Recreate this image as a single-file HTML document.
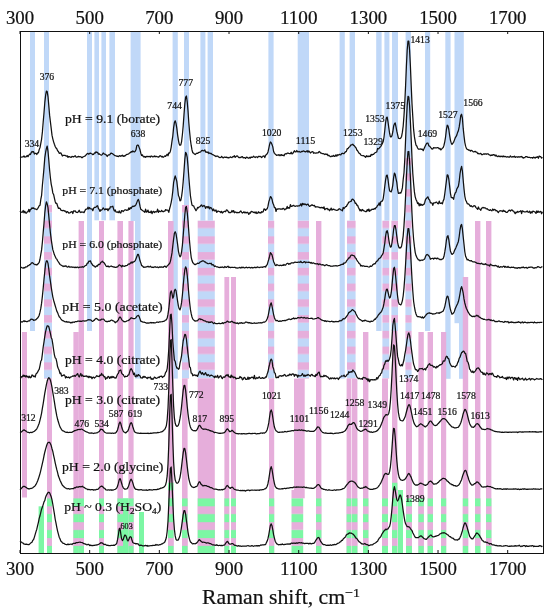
<!DOCTYPE html>
<html><head><meta charset="utf-8"><title>Raman spectra</title>
<style>
html,body{margin:0;padding:0;background:#fff;}
svg{display:block;font-family:"Liberation Serif","DejaVu Serif",serif;fill:#111;}
</style></head>
<body>
<svg width="550" height="612" viewBox="0 0 550 612">
<defs>
<pattern id="bp" patternUnits="userSpaceOnUse" x="0" y="220.6" width="600" height="15.75">
<rect x="0" y="0" width="600" height="7.7" fill="#e6aedb"/>
<rect x="0" y="7.7" width="600" height="8.05" fill="#c0d8f8"/>
</pattern>
<pattern id="gp" patternUnits="userSpaceOnUse" x="0" y="490.4" width="600" height="15.9">
<rect x="0" y="0" width="600" height="7.8" fill="#e6aedb"/>
<rect x="0" y="7.8" width="600" height="8.1" fill="#7cf7a4"/>
</pattern>
</defs>
<rect x="0" y="0" width="550" height="612" fill="#fff"/>
<g stroke="none">
<rect x="30.00" y="31.00" width="5.00" height="300.00" fill="#c0d8f8"/>
<rect x="44.00" y="31.00" width="5.00" height="182.00" fill="#c0d8f8"/>
<rect x="87.00" y="31.00" width="5.00" height="300.00" fill="#c0d8f8"/>
<rect x="94.40" y="31.00" width="4.60" height="189.30" fill="#c0d8f8"/>
<rect x="101.40" y="31.00" width="4.60" height="189.30" fill="#c0d8f8"/>
<rect x="109.40" y="31.00" width="5.60" height="189.30" fill="#c0d8f8"/>
<rect x="130.60" y="31.00" width="10.00" height="190.00" fill="#c0d8f8"/>
<rect x="135.00" y="221.00" width="5.60" height="157.60" fill="#c0d8f8"/>
<rect x="172.60" y="31.00" width="5.20" height="347.60" fill="#c0d8f8"/>
<rect x="184.00" y="31.00" width="5.00" height="175.00" fill="#c0d8f8"/>
<rect x="200.40" y="31.00" width="5.00" height="189.60" fill="#c0d8f8"/>
<rect x="207.60" y="31.00" width="5.40" height="189.60" fill="#c0d8f8"/>
<rect x="268.40" y="31.00" width="5.20" height="189.60" fill="#c0d8f8"/>
<rect x="297.70" y="31.00" width="11.30" height="189.60" fill="#c0d8f8"/>
<rect x="339.60" y="31.00" width="5.20" height="347.60" fill="#c0d8f8"/>
<rect x="349.60" y="31.00" width="5.40" height="189.60" fill="#c0d8f8"/>
<rect x="376.20" y="31.00" width="5.40" height="300.00" fill="#c0d8f8"/>
<rect x="384.40" y="31.00" width="5.00" height="189.60" fill="#c0d8f8"/>
<rect x="392.00" y="31.00" width="6.00" height="189.60" fill="#c0d8f8"/>
<rect x="405.60" y="31.00" width="5.40" height="126.60" fill="#c0d8f8"/>
<rect x="425.00" y="31.00" width="5.20" height="300.00" fill="#c0d8f8"/>
<rect x="445.30" y="31.00" width="5.30" height="347.80" fill="#c0d8f8"/>
<rect x="454.50" y="31.00" width="9.30" height="292.20" fill="#c0d8f8"/>
<rect x="459.00" y="323.00" width="4.80" height="55.80" fill="#c0d8f8"/>
<rect x="22.00" y="332.00" width="5.00" height="165.50" fill="#e6aedb"/>
<rect x="47.00" y="378.60" width="5.00" height="174.40" fill="#e6aedb"/>
<rect x="73.40" y="332.00" width="5.40" height="221.00" fill="#e6aedb"/>
<rect x="78.60" y="221.00" width="5.40" height="332.00" fill="#e6aedb"/>
<rect x="99.00" y="221.00" width="5.00" height="332.00" fill="#e6aedb"/>
<rect x="117.40" y="221.00" width="5.60" height="332.00" fill="#e6aedb"/>
<rect x="128.40" y="221.00" width="5.20" height="332.00" fill="#e6aedb"/>
<rect x="168.00" y="221.00" width="5.60" height="332.00" fill="#e6aedb"/>
<rect x="182.00" y="378.60" width="5.60" height="174.40" fill="#e6aedb"/>
<rect x="197.70" y="378.60" width="17.10" height="174.40" fill="#e6aedb"/>
<rect x="224.40" y="277.00" width="4.80" height="276.00" fill="#e6aedb"/>
<rect x="231.00" y="277.00" width="5.00" height="276.00" fill="#e6aedb"/>
<rect x="269.00" y="378.60" width="5.20" height="174.40" fill="#e6aedb"/>
<rect x="294.00" y="378.60" width="10.70" height="119.70" fill="#e6aedb"/>
<rect x="316.00" y="221.00" width="5.40" height="332.00" fill="#e6aedb"/>
<rect x="346.60" y="378.60" width="4.80" height="174.40" fill="#e6aedb"/>
<rect x="352.00" y="378.60" width="5.40" height="174.40" fill="#e6aedb"/>
<rect x="363.00" y="332.00" width="5.40" height="221.00" fill="#e6aedb"/>
<rect x="382.00" y="378.60" width="6.00" height="174.40" fill="#e6aedb"/>
<rect x="392.00" y="331.00" width="5.40" height="222.00" fill="#e6aedb"/>
<rect x="406.00" y="378.60" width="6.00" height="174.40" fill="#e6aedb"/>
<rect x="418.40" y="332.00" width="5.40" height="221.00" fill="#e6aedb"/>
<rect x="427.60" y="332.00" width="5.40" height="221.00" fill="#e6aedb"/>
<rect x="441.00" y="332.00" width="5.20" height="221.00" fill="#e6aedb"/>
<rect x="462.80" y="277.00" width="5.40" height="276.00" fill="#e6aedb"/>
<rect x="475.00" y="221.00" width="5.40" height="332.00" fill="#e6aedb"/>
<rect x="486.00" y="221.00" width="5.40" height="332.00" fill="#e6aedb"/>
<rect x="44.00" y="212.50" width="8.00" height="166.10" fill="url(#bp)"/>
<rect x="47.00" y="204.85" width="5.00" height="7.75" fill="url(#bp)"/>
<rect x="182.00" y="205.00" width="7.00" height="173.60" fill="url(#bp)"/>
<rect x="197.70" y="220.60" width="17.10" height="158.00" fill="url(#bp)"/>
<rect x="268.00" y="220.60" width="6.20" height="158.00" fill="url(#bp)"/>
<rect x="297.70" y="220.60" width="11.30" height="158.00" fill="url(#bp)"/>
<rect x="347.00" y="220.60" width="8.60" height="158.00" fill="url(#bp)"/>
<rect x="382.40" y="220.60" width="6.80" height="158.00" fill="url(#bp)"/>
<rect x="391.40" y="220.60" width="6.60" height="110.40" fill="url(#bp)"/>
<rect x="405.40" y="157.60" width="6.20" height="221.00" fill="url(#bp)"/>
<rect x="291.50" y="490.00" width="2.50" height="8.30" fill="#e6aedb"/>
<rect x="47.00" y="498.20" width="5.00" height="54.80" fill="url(#gp)"/>
<rect x="73.40" y="498.20" width="5.40" height="54.80" fill="url(#gp)"/>
<rect x="78.60" y="498.20" width="5.40" height="54.80" fill="url(#gp)"/>
<rect x="99.00" y="498.20" width="5.00" height="54.80" fill="url(#gp)"/>
<rect x="117.40" y="498.20" width="5.60" height="54.80" fill="url(#gp)"/>
<rect x="128.40" y="498.20" width="5.20" height="54.80" fill="url(#gp)"/>
<rect x="168.00" y="482.60" width="5.60" height="70.40" fill="url(#gp)"/>
<rect x="182.00" y="498.20" width="5.60" height="54.80" fill="url(#gp)"/>
<rect x="197.70" y="498.20" width="17.10" height="54.80" fill="url(#gp)"/>
<rect x="224.40" y="498.20" width="4.80" height="54.80" fill="url(#gp)"/>
<rect x="231.00" y="498.20" width="5.00" height="54.80" fill="url(#gp)"/>
<rect x="269.00" y="498.20" width="5.20" height="54.80" fill="url(#gp)"/>
<rect x="291.50" y="498.20" width="11.70" height="54.80" fill="url(#gp)"/>
<rect x="316.00" y="498.20" width="5.40" height="54.80" fill="url(#gp)"/>
<rect x="346.60" y="498.20" width="4.80" height="54.80" fill="url(#gp)"/>
<rect x="352.00" y="498.20" width="5.40" height="54.80" fill="url(#gp)"/>
<rect x="363.00" y="498.20" width="5.40" height="54.80" fill="url(#gp)"/>
<rect x="382.00" y="498.20" width="6.00" height="54.80" fill="url(#gp)"/>
<rect x="392.00" y="482.60" width="5.40" height="70.40" fill="url(#gp)"/>
<rect x="406.00" y="498.20" width="6.00" height="54.80" fill="url(#gp)"/>
<rect x="418.40" y="498.20" width="5.40" height="54.80" fill="url(#gp)"/>
<rect x="427.60" y="498.20" width="5.40" height="54.80" fill="url(#gp)"/>
<rect x="441.00" y="498.20" width="5.20" height="54.80" fill="url(#gp)"/>
<rect x="462.80" y="498.20" width="5.40" height="54.80" fill="url(#gp)"/>
<rect x="475.00" y="498.20" width="5.40" height="54.80" fill="url(#gp)"/>
<rect x="486.00" y="498.20" width="5.40" height="54.80" fill="url(#gp)"/>
<rect x="38.60" y="506.30" width="5.40" height="46.70" fill="#7cf7a4"/>
<rect x="123.00" y="498.20" width="5.40" height="54.80" fill="#7cf7a4"/>
<rect x="139.00" y="512.00" width="5.00" height="41.00" fill="#7cf7a4"/>
<rect x="398.00" y="490.00" width="5.00" height="63.00" fill="#7cf7a4"/>
</g>
<g fill="none" stroke="#111" stroke-width="1.25" stroke-linejoin="round">
<path d="M20.0,156.61 L20.8,156.91 L21.6,157.13 L22.4,156.98 L23.2,156.79 L24.0,155.95 L24.8,157.07 L25.6,156.80 L26.4,156.73 L27.2,155.45 L28.0,156.68 L28.8,155.26 L29.6,154.11 L30.4,154.56 L31.2,152.64 L32.0,151.52 L32.8,152.09 L33.6,151.67 L34.4,154.01 L35.2,153.35 L36.0,153.48 L36.8,154.48 L37.6,152.76 L38.4,152.82 L39.2,149.61 L40.0,147.63 L40.8,143.49 L41.6,139.05 L42.4,131.89 L43.2,121.97 L44.0,112.70 L44.8,102.68 L45.6,95.46 L46.4,91.10 L47.2,91.59 L48.0,96.56 L48.8,105.63 L49.6,115.14 L50.4,121.91 L51.2,128.35 L52.0,135.16 L52.8,138.86 L53.6,141.83 L54.4,144.28 L55.2,146.44 L56.0,148.04 L56.8,148.79 L57.6,150.73 L58.4,151.45 L59.2,153.34 L60.0,153.11 L60.8,152.92 L61.6,154.39 L62.4,156.04 L63.2,155.34 L64.0,155.27 L64.8,155.38 L65.6,155.69 L66.4,156.18 L67.2,155.73 L68.0,157.43 L68.8,156.50 L69.6,156.64 L70.4,157.23 L71.2,157.41 L72.0,156.46 L72.8,156.61 L73.6,156.85 L74.4,156.34 L75.2,155.73 L76.0,157.02 L76.8,157.18 L77.6,156.97 L78.4,156.37 L79.2,156.90 L80.0,156.53 L80.8,156.76 L81.6,157.54 L82.4,157.52 L83.2,156.73 L84.0,156.49 L84.8,156.24 L85.6,155.25 L86.4,154.66 L87.2,153.66 L88.0,153.48 L88.8,154.18 L89.6,153.41 L90.4,153.13 L91.2,153.54 L92.0,153.91 L92.8,154.69 L93.6,154.42 L94.4,152.94 L95.2,153.09 L96.0,151.77 L96.8,152.39 L97.6,152.30 L98.4,154.13 L99.2,153.83 L100.0,154.45 L100.8,154.84 L101.6,155.10 L102.4,154.36 L103.2,153.03 L104.0,153.78 L104.8,154.13 L105.6,154.61 L106.4,155.06 L107.2,156.48 L108.0,155.36 L108.8,154.76 L109.6,154.93 L110.4,153.80 L111.2,153.09 L112.0,153.49 L112.8,153.92 L113.6,154.43 L114.4,155.47 L115.2,155.74 L116.0,155.79 L116.8,156.27 L117.6,156.13 L118.4,156.62 L119.2,155.92 L120.0,155.55 L120.8,156.43 L121.6,155.60 L122.4,155.20 L123.2,156.39 L124.0,155.79 L124.8,156.05 L125.6,155.20 L126.4,154.68 L127.2,154.30 L128.0,154.16 L128.8,153.72 L129.6,152.93 L130.4,152.70 L131.2,151.60 L132.0,152.21 L132.8,150.92 L133.6,151.59 L134.4,151.98 L135.2,151.27 L136.0,149.76 L136.8,145.65 L137.6,145.03 L138.4,145.41 L139.2,147.63 L140.0,149.79 L140.8,153.21 L141.6,155.51 L142.4,154.80 L143.2,156.44 L144.0,157.09 L144.8,156.44 L145.6,157.22 L146.4,156.47 L147.2,156.66 L148.0,156.35 L148.8,156.72 L149.6,156.42 L150.4,156.99 L151.2,155.99 L152.0,156.25 L152.8,156.89 L153.6,156.73 L154.4,155.84 L155.2,156.78 L156.0,156.12 L156.8,156.74 L157.6,156.78 L158.4,157.20 L159.2,156.63 L160.0,155.71 L160.8,156.00 L161.6,156.94 L162.4,156.39 L163.2,157.28 L164.0,156.67 L164.8,155.83 L165.6,156.43 L166.4,155.27 L167.2,154.25 L168.0,155.75 L168.8,152.97 L169.6,153.12 L170.4,151.16 L171.2,147.05 L172.0,141.12 L172.8,136.06 L173.6,127.91 L174.4,122.59 L175.2,120.79 L176.0,123.38 L176.8,128.13 L177.6,134.82 L178.4,140.08 L179.2,144.04 L180.0,145.32 L180.8,144.86 L181.6,141.54 L182.4,134.54 L183.2,125.87 L184.0,114.63 L184.8,104.15 L185.6,97.33 L186.4,95.96 L187.2,101.54 L188.0,110.69 L188.8,122.46 L189.6,131.76 L190.4,139.91 L191.2,145.47 L192.0,149.97 L192.8,152.75 L193.6,153.17 L194.4,153.98 L195.2,154.50 L196.0,153.81 L196.8,153.18 L197.6,153.49 L198.4,152.60 L199.2,152.31 L200.0,152.23 L200.8,151.78 L201.6,150.52 L202.4,150.32 L203.2,150.81 L204.0,150.67 L204.8,149.99 L205.6,152.03 L206.4,151.88 L207.2,152.59 L208.0,151.88 L208.8,153.57 L209.6,152.97 L210.4,153.60 L211.2,153.31 L212.0,154.31 L212.8,154.68 L213.6,154.95 L214.4,155.65 L215.2,155.94 L216.0,156.62 L216.8,156.01 L217.6,156.02 L218.4,156.83 L219.2,157.21 L220.0,157.57 L220.8,157.50 L221.6,156.32 L222.4,157.31 L223.2,157.94 L224.0,157.31 L224.8,156.95 L225.6,157.45 L226.4,157.07 L227.2,157.75 L228.0,157.44 L228.8,158.04 L229.6,157.57 L230.4,156.89 L231.2,157.44 L232.0,157.53 L232.8,156.68 L233.6,156.75 L234.4,155.75 L235.2,157.39 L236.0,156.56 L236.8,155.84 L237.6,156.14 L238.4,157.17 L239.2,157.76 L240.0,157.27 L240.8,157.63 L241.6,156.76 L242.4,156.59 L243.2,157.88 L244.0,157.71 L244.8,157.61 L245.6,158.46 L246.4,157.17 L247.2,157.37 L248.0,157.85 L248.8,158.26 L249.6,157.31 L250.4,157.98 L251.2,156.94 L252.0,157.49 L252.8,157.21 L253.6,156.28 L254.4,157.00 L255.2,157.49 L256.0,156.81 L256.8,156.89 L257.6,157.68 L258.4,156.41 L259.2,156.46 L260.0,156.71 L260.8,156.39 L261.6,157.59 L262.4,156.87 L263.2,156.02 L264.0,155.86 L264.8,157.56 L265.6,155.34 L266.4,154.46 L267.2,153.80 L268.0,151.91 L268.8,148.36 L269.6,144.42 L270.4,141.99 L271.2,142.70 L272.0,144.44 L272.8,146.83 L273.6,151.50 L274.4,153.36 L275.2,154.09 L276.0,154.75 L276.8,155.40 L277.6,154.98 L278.4,154.73 L279.2,155.70 L280.0,154.78 L280.8,155.69 L281.6,154.58 L282.4,155.34 L283.2,155.17 L284.0,155.90 L284.8,154.00 L285.6,153.72 L286.4,153.91 L287.2,153.23 L288.0,153.16 L288.8,153.44 L289.6,153.58 L290.4,153.66 L291.2,152.25 L292.0,153.90 L292.8,153.41 L293.6,152.06 L294.4,150.75 L295.2,151.78 L296.0,151.89 L296.8,150.45 L297.6,151.79 L298.4,151.76 L299.2,151.34 L300.0,152.15 L300.8,152.18 L301.6,151.35 L302.4,151.58 L303.2,150.98 L304.0,151.10 L304.8,151.65 L305.6,151.84 L306.4,151.38 L307.2,150.65 L308.0,152.30 L308.8,150.93 L309.6,151.93 L310.4,152.98 L311.2,152.33 L312.0,151.73 L312.8,151.52 L313.6,153.26 L314.4,152.76 L315.2,153.21 L316.0,153.18 L316.8,152.93 L317.6,152.87 L318.4,152.59 L319.2,151.41 L320.0,152.20 L320.8,153.22 L321.6,153.16 L322.4,153.71 L323.2,153.68 L324.0,154.05 L324.8,154.56 L325.6,153.93 L326.4,154.56 L327.2,154.15 L328.0,155.63 L328.8,155.35 L329.6,155.91 L330.4,156.70 L331.2,156.60 L332.0,155.94 L332.8,156.37 L333.6,155.31 L334.4,156.33 L335.2,156.15 L336.0,154.76 L336.8,156.21 L337.6,154.72 L338.4,155.21 L339.2,154.30 L340.0,154.67 L340.8,154.82 L341.6,153.58 L342.4,153.20 L343.2,153.60 L344.0,153.72 L344.8,152.56 L345.6,151.81 L346.4,151.44 L347.2,148.71 L348.0,148.72 L348.8,147.26 L349.6,147.02 L350.4,145.58 L351.2,144.77 L352.0,144.82 L352.8,144.23 L353.6,145.37 L354.4,145.79 L355.2,146.98 L356.0,147.84 L356.8,150.02 L357.6,150.73 L358.4,152.24 L359.2,153.30 L360.0,153.63 L360.8,155.04 L361.6,155.51 L362.4,155.74 L363.2,155.66 L364.0,155.92 L364.8,156.57 L365.6,157.35 L366.4,155.75 L367.2,156.68 L368.0,156.11 L368.8,156.60 L369.6,156.09 L370.4,156.44 L371.2,154.33 L372.0,155.10 L372.8,154.43 L373.6,154.27 L374.4,153.42 L375.2,152.57 L376.0,152.26 L376.8,151.84 L377.6,148.45 L378.4,148.95 L379.2,148.22 L380.0,147.23 L380.8,146.31 L381.6,144.96 L382.4,143.53 L383.2,141.55 L384.0,137.25 L384.8,130.26 L385.6,122.54 L386.4,117.67 L387.2,117.09 L388.0,121.83 L388.8,127.92 L389.6,133.25 L390.4,136.92 L391.2,136.89 L392.0,135.68 L392.8,131.99 L393.6,126.29 L394.4,123.88 L395.2,122.91 L396.0,126.93 L396.8,131.22 L397.6,134.73 L398.4,138.12 L399.2,138.50 L400.0,138.66 L400.8,137.92 L401.6,136.44 L402.4,132.18 L403.2,126.02 L404.0,115.63 L404.8,102.37 L405.6,85.45 L406.4,66.32 L407.2,49.96 L408.0,41.15 L408.8,41.19 L409.6,50.51 L410.4,66.07 L411.2,85.65 L412.0,103.89 L412.8,116.83 L413.6,129.44 L414.4,136.69 L415.2,141.37 L416.0,145.11 L416.8,146.00 L417.6,148.00 L418.4,149.12 L419.2,149.07 L420.0,149.05 L420.8,148.85 L421.6,149.41 L422.4,149.22 L423.2,150.63 L424.0,148.85 L424.8,147.05 L425.6,145.28 L426.4,143.70 L427.2,143.01 L428.0,143.07 L428.8,145.90 L429.6,146.07 L430.4,147.06 L431.2,148.16 L432.0,149.03 L432.8,148.78 L433.6,147.61 L434.4,147.93 L435.2,147.75 L436.0,147.94 L436.8,147.84 L437.6,147.53 L438.4,147.83 L439.2,148.89 L440.0,148.39 L440.8,149.93 L441.6,149.16 L442.4,148.17 L443.2,147.61 L444.0,145.25 L444.8,141.55 L445.6,136.75 L446.4,129.69 L447.2,125.24 L448.0,125.96 L448.8,129.51 L449.6,135.26 L450.4,140.06 L451.2,142.91 L452.0,144.50 L452.8,143.24 L453.6,142.31 L454.4,140.10 L455.2,137.94 L456.0,136.69 L456.8,135.11 L457.6,132.41 L458.4,130.63 L459.2,126.91 L460.0,121.59 L460.8,115.38 L461.6,114.25 L462.4,118.18 L463.2,128.44 L464.0,135.92 L464.8,142.30 L465.6,146.15 L466.4,148.40 L467.2,149.42 L468.0,149.57 L468.8,150.25 L469.6,150.19 L470.4,151.16 L471.2,150.29 L472.0,150.57 L472.8,151.43 L473.6,151.97 L474.4,151.62 L475.2,151.32 L476.0,152.10 L476.8,152.01 L477.6,153.51 L478.4,153.37 L479.2,153.90 L480.0,153.68 L480.8,153.35 L481.6,154.59 L482.4,154.72 L483.2,154.15 L484.0,153.77 L484.8,154.34 L485.6,153.78 L486.4,154.28 L487.2,153.78 L488.0,153.77 L488.8,154.64 L489.6,154.81 L490.4,155.66 L491.2,154.96 L492.0,155.38 L492.8,154.91 L493.6,154.60 L494.4,154.80 L495.2,156.01 L496.0,154.97 L496.8,156.21 L497.6,156.56 L498.4,155.86 L499.2,156.72 L500.0,156.10 L500.8,156.76 L501.6,156.13 L502.4,156.76 L503.2,155.86 L504.0,156.83 L504.8,156.34 L505.6,156.66 L506.4,157.02 L507.2,156.85 L508.0,156.69 L508.8,157.24 L509.6,157.15 L510.4,155.96 L511.2,156.95 L512.0,157.08 L512.8,156.56 L513.6,156.87 L514.4,156.12 L515.2,157.40 L516.0,156.77 L516.8,156.80 L517.6,157.26 L518.4,156.67 L519.2,157.22 L520.0,156.70 L520.8,156.95 L521.6,156.50 L522.4,157.27 L523.2,158.15 L524.0,157.54 L524.8,157.72 L525.6,156.51 L526.4,156.56 L527.2,156.91 L528.0,157.36 L528.8,157.37 L529.6,157.27 L530.4,157.80 L531.2,157.66 L532.0,157.62 L532.8,158.22 L533.6,157.09 L534.4,157.54 L535.2,158.14 L536.0,157.06 L536.8,157.35 L537.6,156.71 L538.4,158.23 L539.2,156.02 L540.0,156.59 L540.8,156.70 L541.6,158.09 L542.4,157.31"/>
<path d="M20.0,211.19 L20.8,212.36 L21.6,212.09 L22.4,212.22 L23.2,210.50 L24.0,212.82 L24.8,211.19 L25.6,212.96 L26.4,213.19 L27.2,211.97 L28.0,211.76 L28.8,209.40 L29.6,211.86 L30.4,209.27 L31.2,209.21 L32.0,207.73 L32.8,208.43 L33.6,207.87 L34.4,208.81 L35.2,208.96 L36.0,209.26 L36.8,209.69 L37.6,208.55 L38.4,207.35 L39.2,205.79 L40.0,205.30 L40.8,199.48 L41.6,195.29 L42.4,185.19 L43.2,177.02 L44.0,167.87 L44.8,157.83 L45.6,152.47 L46.4,148.35 L47.2,146.06 L48.0,151.38 L48.8,160.19 L49.6,170.02 L50.4,177.86 L51.2,184.08 L52.0,187.88 L52.8,192.94 L53.6,194.48 L54.4,198.07 L55.2,201.66 L56.0,203.36 L56.8,203.46 L57.6,205.96 L58.4,208.41 L59.2,208.08 L60.0,208.31 L60.8,210.11 L61.6,210.36 L62.4,210.77 L63.2,210.45 L64.0,210.56 L64.8,211.26 L65.6,211.04 L66.4,212.69 L67.2,211.57 L68.0,212.09 L68.8,213.17 L69.6,212.83 L70.4,212.62 L71.2,211.74 L72.0,211.52 L72.8,213.52 L73.6,210.96 L74.4,211.19 L75.2,210.89 L76.0,212.09 L76.8,212.47 L77.6,212.50 L78.4,211.67 L79.2,210.26 L80.0,212.09 L80.8,212.51 L81.6,211.92 L82.4,212.01 L83.2,212.05 L84.0,212.62 L84.8,211.02 L85.6,209.37 L86.4,209.13 L87.2,208.98 L88.0,207.19 L88.8,208.99 L89.6,207.55 L90.4,208.76 L91.2,209.00 L92.0,208.81 L92.8,210.72 L93.6,208.40 L94.4,207.41 L95.2,207.37 L96.0,207.12 L96.8,206.13 L97.6,205.70 L98.4,208.46 L99.2,209.58 L100.0,211.41 L100.8,209.72 L101.6,210.21 L102.4,209.30 L103.2,207.87 L104.0,208.93 L104.8,209.86 L105.6,208.87 L106.4,209.40 L107.2,208.88 L108.0,210.66 L108.8,208.79 L109.6,208.98 L110.4,206.75 L111.2,206.97 L112.0,206.74 L112.8,206.17 L113.6,209.20 L114.4,211.02 L115.2,209.94 L116.0,211.90 L116.8,212.17 L117.6,211.97 L118.4,212.69 L119.2,210.91 L120.0,212.62 L120.8,213.05 L121.6,210.56 L122.4,210.77 L123.2,211.64 L124.0,210.67 L124.8,209.82 L125.6,209.78 L126.4,210.35 L127.2,210.07 L128.0,210.23 L128.8,207.84 L129.6,209.44 L130.4,207.65 L131.2,208.33 L132.0,206.91 L132.8,206.09 L133.6,206.53 L134.4,206.10 L135.2,205.62 L136.0,204.54 L136.8,202.62 L137.6,200.36 L138.4,199.40 L139.2,202.03 L140.0,206.21 L140.8,209.40 L141.6,209.66 L142.4,210.55 L143.2,211.00 L144.0,211.55 L144.8,212.32 L145.6,209.16 L146.4,212.17 L147.2,211.63 L148.0,210.07 L148.8,212.52 L149.6,212.19 L150.4,212.59 L151.2,211.01 L152.0,213.68 L152.8,211.83 L153.6,211.35 L154.4,212.55 L155.2,211.66 L156.0,211.76 L156.8,211.87 L157.6,209.17 L158.4,212.44 L159.2,210.89 L160.0,211.49 L160.8,211.71 L161.6,210.40 L162.4,211.34 L163.2,211.77 L164.0,211.17 L164.8,211.23 L165.6,209.62 L166.4,210.09 L167.2,210.02 L168.0,210.39 L168.8,212.34 L169.6,208.76 L170.4,205.93 L171.2,202.30 L172.0,197.80 L172.8,191.14 L173.6,182.73 L174.4,178.78 L175.2,175.97 L176.0,178.46 L176.8,181.38 L177.6,188.14 L178.4,195.37 L179.2,197.31 L180.0,200.88 L180.8,200.30 L181.6,196.43 L182.4,190.39 L183.2,181.68 L184.0,170.95 L184.8,159.60 L185.6,152.36 L186.4,153.56 L187.2,157.36 L188.0,166.23 L188.8,177.00 L189.6,186.51 L190.4,195.62 L191.2,200.75 L192.0,205.04 L192.8,205.71 L193.6,205.77 L194.4,207.70 L195.2,209.06 L196.0,210.72 L196.8,209.48 L197.6,207.45 L198.4,207.87 L199.2,206.88 L200.0,206.75 L200.8,205.56 L201.6,204.84 L202.4,206.61 L203.2,206.07 L204.0,205.47 L204.8,206.24 L205.6,208.37 L206.4,206.80 L207.2,206.57 L208.0,207.96 L208.8,206.48 L209.6,208.91 L210.4,207.47 L211.2,207.79 L212.0,209.00 L212.8,210.78 L213.6,209.01 L214.4,210.81 L215.2,210.98 L216.0,210.02 L216.8,212.45 L217.6,211.23 L218.4,211.10 L219.2,211.54 L220.0,211.61 L220.8,212.68 L221.6,211.35 L222.4,213.03 L223.2,212.15 L224.0,211.49 L224.8,211.24 L225.6,211.72 L226.4,209.89 L227.2,210.13 L228.0,211.13 L228.8,212.55 L229.6,212.31 L230.4,212.65 L231.2,212.22 L232.0,210.52 L232.8,212.04 L233.6,210.57 L234.4,212.77 L235.2,211.99 L236.0,212.20 L236.8,212.82 L237.6,212.44 L238.4,212.68 L239.2,212.60 L240.0,211.71 L240.8,210.94 L241.6,212.08 L242.4,213.08 L243.2,212.59 L244.0,211.78 L244.8,212.92 L245.6,212.24 L246.4,212.89 L247.2,212.21 L248.0,212.85 L248.8,214.35 L249.6,212.79 L250.4,213.19 L251.2,211.37 L252.0,211.51 L252.8,212.01 L253.6,212.51 L254.4,212.13 L255.2,213.17 L256.0,211.87 L256.8,213.52 L257.6,213.27 L258.4,211.75 L259.2,212.96 L260.0,212.36 L260.8,213.12 L261.6,211.69 L262.4,212.06 L263.2,211.72 L264.0,208.84 L264.8,209.36 L265.6,210.44 L266.4,209.11 L267.2,208.90 L268.0,206.19 L268.8,201.85 L269.6,199.39 L270.4,196.58 L271.2,197.24 L272.0,199.22 L272.8,203.02 L273.6,204.67 L274.4,207.51 L275.2,207.51 L276.0,211.48 L276.8,208.89 L277.6,209.29 L278.4,208.84 L279.2,208.92 L280.0,208.77 L280.8,209.26 L281.6,208.97 L282.4,209.07 L283.2,208.30 L284.0,208.82 L284.8,209.83 L285.6,208.86 L286.4,208.82 L287.2,206.40 L288.0,208.41 L288.8,207.54 L289.6,208.17 L290.4,204.56 L291.2,206.47 L292.0,206.30 L292.8,205.68 L293.6,205.29 L294.4,206.04 L295.2,206.38 L296.0,206.01 L296.8,205.82 L297.6,206.10 L298.4,205.76 L299.2,205.92 L300.0,205.24 L300.8,203.80 L301.6,206.01 L302.4,203.46 L303.2,204.58 L304.0,203.68 L304.8,204.58 L305.6,204.06 L306.4,205.04 L307.2,204.36 L308.0,204.12 L308.8,205.58 L309.6,206.41 L310.4,205.83 L311.2,205.40 L312.0,204.68 L312.8,205.43 L313.6,205.80 L314.4,205.33 L315.2,207.06 L316.0,206.73 L316.8,206.96 L317.6,206.77 L318.4,206.98 L319.2,207.58 L320.0,207.43 L320.8,207.86 L321.6,207.40 L322.4,207.54 L323.2,208.28 L324.0,206.80 L324.8,209.73 L325.6,208.82 L326.4,208.56 L327.2,208.31 L328.0,209.75 L328.8,209.22 L329.6,210.73 L330.4,209.71 L331.2,208.11 L332.0,210.19 L332.8,209.29 L333.6,209.09 L334.4,209.74 L335.2,209.96 L336.0,210.25 L336.8,210.43 L337.6,210.18 L338.4,209.63 L339.2,208.69 L340.0,209.07 L340.8,209.89 L341.6,210.07 L342.4,210.74 L343.2,207.49 L344.0,208.52 L344.8,207.61 L345.6,206.68 L346.4,206.40 L347.2,204.85 L348.0,203.57 L348.8,202.16 L349.6,201.84 L350.4,201.48 L351.2,201.35 L352.0,199.27 L352.8,199.12 L353.6,200.03 L354.4,200.70 L355.2,203.33 L356.0,203.10 L356.8,205.23 L357.6,205.23 L358.4,207.54 L359.2,208.90 L360.0,210.83 L360.8,209.69 L361.6,211.01 L362.4,209.50 L363.2,210.28 L364.0,210.93 L364.8,211.27 L365.6,211.65 L366.4,211.56 L367.2,209.62 L368.0,210.99 L368.8,209.07 L369.6,211.30 L370.4,210.12 L371.2,210.06 L372.0,209.23 L372.8,209.40 L373.6,209.26 L374.4,208.48 L375.2,209.01 L376.0,207.53 L376.8,207.11 L377.6,205.28 L378.4,204.95 L379.2,202.78 L380.0,205.54 L380.8,201.67 L381.6,201.15 L382.4,201.14 L383.2,198.79 L384.0,192.82 L384.8,186.28 L385.6,179.92 L386.4,175.50 L387.2,175.05 L388.0,179.36 L388.8,186.03 L389.6,190.79 L390.4,191.55 L391.2,191.93 L392.0,189.49 L392.8,185.04 L393.6,177.67 L394.4,173.07 L395.2,174.33 L396.0,178.56 L396.8,182.34 L397.6,189.48 L398.4,193.27 L399.2,193.33 L400.0,192.66 L400.8,193.11 L401.6,191.15 L402.4,187.88 L403.2,179.50 L404.0,172.95 L404.8,159.07 L405.6,139.33 L406.4,120.23 L407.2,105.63 L408.0,96.30 L408.8,96.98 L409.6,105.96 L410.4,121.83 L411.2,139.08 L412.0,158.57 L412.8,173.55 L413.6,183.56 L414.4,191.91 L415.2,196.85 L416.0,199.50 L416.8,201.13 L417.6,203.55 L418.4,202.81 L419.2,205.78 L420.0,203.73 L420.8,205.39 L421.6,204.29 L422.4,205.26 L423.2,204.66 L424.0,204.31 L424.8,202.21 L425.6,199.28 L426.4,198.51 L427.2,197.53 L428.0,196.84 L428.8,199.34 L429.6,199.90 L430.4,202.77 L431.2,202.91 L432.0,203.08 L432.8,205.32 L433.6,202.82 L434.4,202.92 L435.2,202.86 L436.0,202.23 L436.8,202.24 L437.6,203.52 L438.4,203.87 L439.2,201.07 L440.0,203.36 L440.8,203.34 L441.6,202.90 L442.4,203.85 L443.2,200.88 L444.0,199.13 L444.8,193.60 L445.6,187.31 L446.4,180.96 L447.2,174.81 L448.0,175.33 L448.8,179.24 L449.6,185.89 L450.4,193.03 L451.2,197.38 L452.0,197.81 L452.8,197.66 L453.6,199.34 L454.4,195.16 L455.2,192.99 L456.0,192.09 L456.8,189.00 L457.6,187.67 L458.4,186.13 L459.2,181.45 L460.0,173.89 L460.8,169.06 L461.6,166.30 L462.4,171.00 L463.2,180.22 L464.0,188.82 L464.8,196.05 L465.6,199.93 L466.4,201.43 L467.2,203.58 L468.0,203.89 L468.8,204.18 L469.6,205.25 L470.4,206.26 L471.2,205.69 L472.0,206.66 L472.8,206.81 L473.6,205.80 L474.4,205.67 L475.2,206.13 L476.0,207.62 L476.8,208.37 L477.6,209.27 L478.4,206.98 L479.2,208.97 L480.0,209.23 L480.8,210.28 L481.6,208.10 L482.4,207.89 L483.2,207.35 L484.0,208.04 L484.8,207.73 L485.6,208.04 L486.4,208.97 L487.2,208.73 L488.0,209.60 L488.8,209.93 L489.6,210.41 L490.4,209.60 L491.2,210.54 L492.0,210.85 L492.8,209.02 L493.6,210.26 L494.4,209.44 L495.2,209.72 L496.0,210.78 L496.8,210.46 L497.6,211.82 L498.4,212.53 L499.2,211.23 L500.0,210.71 L500.8,210.93 L501.6,210.88 L502.4,211.61 L503.2,210.19 L504.0,211.36 L504.8,210.89 L505.6,211.88 L506.4,212.43 L507.2,212.39 L508.0,211.31 L508.8,210.33 L509.6,210.17 L510.4,211.12 L511.2,210.03 L512.0,209.86 L512.8,210.91 L513.6,211.18 L514.4,212.45 L515.2,213.67 L516.0,212.11 L516.8,212.69 L517.6,211.33 L518.4,212.08 L519.2,211.72 L520.0,211.31 L520.8,210.72 L521.6,213.60 L522.4,210.77 L523.2,211.19 L524.0,211.78 L524.8,211.97 L525.6,211.96 L526.4,211.75 L527.2,211.01 L528.0,212.27 L528.8,212.20 L529.6,211.19 L530.4,213.25 L531.2,211.74 L532.0,213.01 L532.8,211.12 L533.6,211.40 L534.4,211.75 L535.2,212.15 L536.0,213.45 L536.8,210.84 L537.6,212.37 L538.4,211.18 L539.2,212.35 L540.0,211.81 L540.8,211.43 L541.6,213.75 L542.4,211.75"/>
<path d="M20.0,267.32 L20.8,267.43 L21.6,267.48 L22.4,268.00 L23.2,268.18 L24.0,267.49 L24.8,267.95 L25.6,266.92 L26.4,267.00 L27.2,266.65 L28.0,265.50 L28.8,265.58 L29.6,264.61 L30.4,264.51 L31.2,263.34 L32.0,262.70 L32.8,262.90 L33.6,263.72 L34.4,264.20 L35.2,264.64 L36.0,264.48 L36.8,265.02 L37.6,264.26 L38.4,263.51 L39.2,262.34 L40.0,259.23 L40.8,254.45 L41.6,249.91 L42.4,242.04 L43.2,232.62 L44.0,223.32 L44.8,212.95 L45.6,205.88 L46.4,201.78 L47.2,203.91 L48.0,207.59 L48.8,216.17 L49.6,224.68 L50.4,232.93 L51.2,239.38 L52.0,244.69 L52.8,249.63 L53.6,252.10 L54.4,254.85 L55.2,256.56 L56.0,258.36 L56.8,259.10 L57.6,260.72 L58.4,261.94 L59.2,263.08 L60.0,264.44 L60.8,264.87 L61.6,265.53 L62.4,265.80 L63.2,266.57 L64.0,265.98 L64.8,266.35 L65.6,265.85 L66.4,266.18 L67.2,267.05 L68.0,266.91 L68.8,266.26 L69.6,267.11 L70.4,267.08 L71.2,266.77 L72.0,267.34 L72.8,267.09 L73.6,267.23 L74.4,267.57 L75.2,267.03 L76.0,267.66 L76.8,267.16 L77.6,267.05 L78.4,267.75 L79.2,267.42 L80.0,267.17 L80.8,267.21 L81.6,267.22 L82.4,266.61 L83.2,267.27 L84.0,266.80 L84.8,265.96 L85.6,265.52 L86.4,265.16 L87.2,263.16 L88.0,263.22 L88.8,261.11 L89.6,261.28 L90.4,260.83 L91.2,263.02 L92.0,264.00 L92.8,265.32 L93.6,265.92 L94.4,266.07 L95.2,267.18 L96.0,266.54 L96.8,265.80 L97.6,266.08 L98.4,264.30 L99.2,264.57 L100.0,264.09 L100.8,262.41 L101.6,261.93 L102.4,261.19 L103.2,262.25 L104.0,262.74 L104.8,263.85 L105.6,265.27 L106.4,266.42 L107.2,266.53 L108.0,265.96 L108.8,266.85 L109.6,266.84 L110.4,266.24 L111.2,265.99 L112.0,266.56 L112.8,266.66 L113.6,267.04 L114.4,266.95 L115.2,267.36 L116.0,267.41 L116.8,266.98 L117.6,266.84 L118.4,265.83 L119.2,264.88 L120.0,265.26 L120.8,265.73 L121.6,266.89 L122.4,265.38 L123.2,266.24 L124.0,266.13 L124.8,266.28 L125.6,265.64 L126.4,265.54 L127.2,265.49 L128.0,264.37 L128.8,263.99 L129.6,264.02 L130.4,263.24 L131.2,261.99 L132.0,263.22 L132.8,261.86 L133.6,262.10 L134.4,261.58 L135.2,260.67 L136.0,258.75 L136.8,256.86 L137.6,254.47 L138.4,254.44 L139.2,257.25 L140.0,260.79 L140.8,262.87 L141.6,265.54 L142.4,265.81 L143.2,266.85 L144.0,267.35 L144.8,267.02 L145.6,267.16 L146.4,266.85 L147.2,266.74 L148.0,266.21 L148.8,266.95 L149.6,266.90 L150.4,266.24 L151.2,267.04 L152.0,267.51 L152.8,267.17 L153.6,267.54 L154.4,267.01 L155.2,266.70 L156.0,267.32 L156.8,267.21 L157.6,266.98 L158.4,267.68 L159.2,267.17 L160.0,266.89 L160.8,267.25 L161.6,266.95 L162.4,267.02 L163.2,267.37 L164.0,266.55 L164.8,266.06 L165.6,266.85 L166.4,267.26 L167.2,265.90 L168.0,265.21 L168.8,264.28 L169.6,263.55 L170.4,261.36 L171.2,257.49 L172.0,252.91 L172.8,245.94 L173.6,239.12 L174.4,233.23 L175.2,231.74 L176.0,233.63 L176.8,238.76 L177.6,244.41 L178.4,251.09 L179.2,254.73 L180.0,256.83 L180.8,255.92 L181.6,251.82 L182.4,245.23 L183.2,235.58 L184.0,225.32 L184.8,215.06 L185.6,207.37 L186.4,206.51 L187.2,212.04 L188.0,220.93 L188.8,231.77 L189.6,242.02 L190.4,250.68 L191.2,257.28 L192.0,260.56 L192.8,262.73 L193.6,263.29 L194.4,264.40 L195.2,264.68 L196.0,264.05 L196.8,263.79 L197.6,263.18 L198.4,263.33 L199.2,263.09 L200.0,262.15 L200.8,261.76 L201.6,261.38 L202.4,260.88 L203.2,260.77 L204.0,261.25 L204.8,261.89 L205.6,262.20 L206.4,262.95 L207.2,263.15 L208.0,263.74 L208.8,263.56 L209.6,263.28 L210.4,263.57 L211.2,263.22 L212.0,265.02 L212.8,264.60 L213.6,265.10 L214.4,266.57 L215.2,265.99 L216.0,266.50 L216.8,266.90 L217.6,266.93 L218.4,267.29 L219.2,267.34 L220.0,267.54 L220.8,267.06 L221.6,267.28 L222.4,266.95 L223.2,267.42 L224.0,267.63 L224.8,266.52 L225.6,267.23 L226.4,267.43 L227.2,266.66 L228.0,266.17 L228.8,267.49 L229.6,267.04 L230.4,267.68 L231.2,267.47 L232.0,267.45 L232.8,267.32 L233.6,267.51 L234.4,267.25 L235.2,267.43 L236.0,268.06 L236.8,267.77 L237.6,268.07 L238.4,267.82 L239.2,267.70 L240.0,267.39 L240.8,268.07 L241.6,267.23 L242.4,267.67 L243.2,267.12 L244.0,267.78 L244.8,267.91 L245.6,267.46 L246.4,267.15 L247.2,267.79 L248.0,267.72 L248.8,267.46 L249.6,267.49 L250.4,268.03 L251.2,267.69 L252.0,267.44 L252.8,268.06 L253.6,267.68 L254.4,267.21 L255.2,267.77 L256.0,267.19 L256.8,267.63 L257.6,266.88 L258.4,267.27 L259.2,267.62 L260.0,267.26 L260.8,267.23 L261.6,267.23 L262.4,267.33 L263.2,266.91 L264.0,266.93 L264.8,266.53 L265.6,267.12 L266.4,265.38 L267.2,264.70 L268.0,261.87 L268.8,259.26 L269.6,256.20 L270.4,252.71 L271.2,253.59 L272.0,254.83 L272.8,258.05 L273.6,261.70 L274.4,263.25 L275.2,265.20 L276.0,265.57 L276.8,264.52 L277.6,265.10 L278.4,265.25 L279.2,265.67 L280.0,265.18 L280.8,265.33 L281.6,265.70 L282.4,265.07 L283.2,265.48 L284.0,264.52 L284.8,265.17 L285.6,265.12 L286.4,264.00 L287.2,263.37 L288.0,263.42 L288.8,264.40 L289.6,263.62 L290.4,263.96 L291.2,262.89 L292.0,262.76 L292.8,262.84 L293.6,263.00 L294.4,262.35 L295.2,262.02 L296.0,262.49 L296.8,262.32 L297.6,262.42 L298.4,262.21 L299.2,262.06 L300.0,262.34 L300.8,261.26 L301.6,262.31 L302.4,262.57 L303.2,262.37 L304.0,261.85 L304.8,261.62 L305.6,262.79 L306.4,262.10 L307.2,262.26 L308.0,262.43 L308.8,262.23 L309.6,262.30 L310.4,263.06 L311.2,262.35 L312.0,263.50 L312.8,262.96 L313.6,262.96 L314.4,263.58 L315.2,263.57 L316.0,263.95 L316.8,263.88 L317.6,263.70 L318.4,264.67 L319.2,264.05 L320.0,263.94 L320.8,264.66 L321.6,264.84 L322.4,264.69 L323.2,264.83 L324.0,265.17 L324.8,265.76 L325.6,265.13 L326.4,264.70 L327.2,265.01 L328.0,265.61 L328.8,265.55 L329.6,265.59 L330.4,266.14 L331.2,266.26 L332.0,266.06 L332.8,266.27 L333.6,265.87 L334.4,265.96 L335.2,265.99 L336.0,265.54 L336.8,266.05 L337.6,265.83 L338.4,265.52 L339.2,265.46 L340.0,265.32 L340.8,264.67 L341.6,264.52 L342.4,264.12 L343.2,264.45 L344.0,262.87 L344.8,263.02 L345.6,262.75 L346.4,261.16 L347.2,260.10 L348.0,259.17 L348.8,257.77 L349.6,257.85 L350.4,256.24 L351.2,255.19 L352.0,255.12 L352.8,255.45 L353.6,255.59 L354.4,256.07 L355.2,257.72 L356.0,258.38 L356.8,259.96 L357.6,261.35 L358.4,262.19 L359.2,263.57 L360.0,264.10 L360.8,266.13 L361.6,265.40 L362.4,266.20 L363.2,265.87 L364.0,265.90 L364.8,266.42 L365.6,266.32 L366.4,266.28 L367.2,266.46 L368.0,266.76 L368.8,267.02 L369.6,266.94 L370.4,265.93 L371.2,266.40 L372.0,265.99 L372.8,264.66 L373.6,264.11 L374.4,263.71 L375.2,263.79 L376.0,262.10 L376.8,261.05 L377.6,260.86 L378.4,259.40 L379.2,258.38 L380.0,258.05 L380.8,257.26 L381.6,255.62 L382.4,254.63 L383.2,252.97 L384.0,248.06 L384.8,243.04 L385.6,236.07 L386.4,231.40 L387.2,230.76 L388.0,233.76 L388.8,239.74 L389.6,244.41 L390.4,247.11 L391.2,246.77 L392.0,242.75 L392.8,237.05 L393.6,229.73 L394.4,225.71 L395.2,225.61 L396.0,229.97 L396.8,236.34 L397.6,242.40 L398.4,246.03 L399.2,248.04 L400.0,247.68 L400.8,247.83 L401.6,245.93 L402.4,241.58 L403.2,235.87 L404.0,225.67 L404.8,212.66 L405.6,195.69 L406.4,177.61 L407.2,162.16 L408.0,151.67 L408.8,151.49 L409.6,161.51 L410.4,177.79 L411.2,195.82 L412.0,213.96 L412.8,228.52 L413.6,239.29 L414.4,246.43 L415.2,252.37 L416.0,255.59 L416.8,257.35 L417.6,258.66 L418.4,259.81 L419.2,259.77 L420.0,260.78 L420.8,260.22 L421.6,260.06 L422.4,260.32 L423.2,259.86 L424.0,259.48 L424.8,258.61 L425.6,256.30 L426.4,254.84 L427.2,254.46 L428.0,254.96 L428.8,255.80 L429.6,257.03 L430.4,259.28 L431.2,258.69 L432.0,258.50 L432.8,258.22 L433.6,259.21 L434.4,258.03 L435.2,258.34 L436.0,258.23 L436.8,258.91 L437.6,258.05 L438.4,258.72 L439.2,259.06 L440.0,259.72 L440.8,259.31 L441.6,259.54 L442.4,258.89 L443.2,258.60 L444.0,256.32 L444.8,251.95 L445.6,246.95 L446.4,240.25 L447.2,236.53 L448.0,235.76 L448.8,239.61 L449.6,245.73 L450.4,250.93 L451.2,253.13 L452.0,254.33 L452.8,253.89 L453.6,253.16 L454.4,250.79 L455.2,249.14 L456.0,247.39 L456.8,245.41 L457.6,243.49 L458.4,241.43 L459.2,236.51 L460.0,230.03 L460.8,225.60 L461.6,224.41 L462.4,228.96 L463.2,236.83 L464.0,244.25 L464.8,251.74 L465.6,256.27 L466.4,258.09 L467.2,259.88 L468.0,259.44 L468.8,260.28 L469.6,260.59 L470.4,260.95 L471.2,260.55 L472.0,261.24 L472.8,261.88 L473.6,261.92 L474.4,261.77 L475.2,262.29 L476.0,262.39 L476.8,263.19 L477.6,263.49 L478.4,263.39 L479.2,263.68 L480.0,263.59 L480.8,263.89 L481.6,263.10 L482.4,264.05 L483.2,264.53 L484.0,264.04 L484.8,264.53 L485.6,263.75 L486.4,264.72 L487.2,264.82 L488.0,265.18 L488.8,265.16 L489.6,266.13 L490.4,264.19 L491.2,264.81 L492.0,265.16 L492.8,265.66 L493.6,265.59 L494.4,265.81 L495.2,265.42 L496.0,265.61 L496.8,265.99 L497.6,266.86 L498.4,266.06 L499.2,267.47 L500.0,267.07 L500.8,266.63 L501.6,266.96 L502.4,267.12 L503.2,266.33 L504.0,266.21 L504.8,267.31 L505.6,266.51 L506.4,267.24 L507.2,267.28 L508.0,266.34 L508.8,267.32 L509.6,267.44 L510.4,267.70 L511.2,267.16 L512.0,267.41 L512.8,267.39 L513.6,267.14 L514.4,267.90 L515.2,267.73 L516.0,268.16 L516.8,267.81 L517.6,268.30 L518.4,267.53 L519.2,267.62 L520.0,268.12 L520.8,267.68 L521.6,267.40 L522.4,267.59 L523.2,266.97 L524.0,267.65 L524.8,267.92 L525.6,267.52 L526.4,267.26 L527.2,268.32 L528.0,267.67 L528.8,267.17 L529.6,267.28 L530.4,267.06 L531.2,267.11 L532.0,267.11 L532.8,267.66 L533.6,268.08 L534.4,268.13 L535.2,267.55 L536.0,267.97 L536.8,267.49 L537.6,266.71 L538.4,266.72 L539.2,267.19 L540.0,267.55 L540.8,267.64 L541.6,266.84 L542.4,266.65"/>
<path d="M20.0,322.49 L20.8,322.34 L21.6,321.74 L22.4,322.02 L23.2,321.37 L24.0,320.76 L24.8,321.52 L25.6,321.20 L26.4,321.59 L27.2,321.62 L28.0,321.17 L28.8,320.95 L29.6,320.84 L30.4,319.64 L31.2,319.04 L32.0,319.39 L32.8,319.45 L33.6,320.29 L34.4,320.13 L35.2,320.03 L36.0,319.64 L36.8,318.75 L37.6,318.08 L38.4,316.98 L39.2,315.27 L40.0,312.17 L40.8,308.43 L41.6,303.15 L42.4,296.13 L43.2,288.18 L44.0,279.29 L44.8,271.48 L45.6,263.90 L46.4,260.96 L47.2,260.87 L48.0,263.37 L48.8,269.09 L49.6,275.88 L50.4,281.42 L51.2,287.04 L52.0,292.19 L52.8,296.80 L53.6,300.23 L54.4,302.99 L55.2,305.71 L56.0,308.39 L56.8,311.18 L57.6,312.61 L58.4,314.82 L59.2,316.69 L60.0,317.51 L60.8,318.79 L61.6,319.73 L62.4,320.59 L63.2,320.62 L64.0,321.35 L64.8,321.64 L65.6,321.82 L66.4,321.46 L67.2,322.18 L68.0,321.91 L68.8,322.19 L69.6,322.10 L70.4,322.94 L71.2,322.34 L72.0,322.88 L72.8,322.03 L73.6,322.06 L74.4,322.29 L75.2,321.60 L76.0,321.68 L76.8,321.71 L77.6,321.22 L78.4,321.02 L79.2,321.06 L80.0,321.38 L80.8,321.17 L81.6,321.37 L82.4,320.97 L83.2,320.99 L84.0,320.85 L84.8,321.08 L85.6,320.94 L86.4,320.87 L87.2,320.21 L88.0,319.76 L88.8,319.67 L89.6,319.95 L90.4,319.87 L91.2,320.32 L92.0,321.09 L92.8,321.41 L93.6,320.64 L94.4,320.13 L95.2,319.01 L96.0,318.42 L96.8,318.63 L97.6,319.34 L98.4,320.05 L99.2,320.19 L100.0,319.98 L100.8,320.04 L101.6,319.18 L102.4,319.25 L103.2,319.01 L104.0,319.59 L104.8,320.58 L105.6,321.42 L106.4,321.42 L107.2,321.84 L108.0,321.26 L108.8,321.23 L109.6,321.29 L110.4,320.65 L111.2,320.18 L112.0,320.12 L112.8,320.81 L113.6,320.94 L114.4,321.61 L115.2,322.77 L116.0,321.81 L116.8,321.82 L117.6,320.70 L118.4,319.84 L119.2,317.78 L120.0,317.02 L120.8,317.82 L121.6,319.55 L122.4,320.45 L123.2,321.08 L124.0,321.76 L124.8,321.72 L125.6,321.75 L126.4,321.24 L127.2,320.75 L128.0,320.59 L128.8,320.15 L129.6,319.61 L130.4,318.57 L131.2,317.65 L132.0,318.19 L132.8,318.40 L133.6,318.54 L134.4,318.68 L135.2,318.25 L136.0,317.78 L136.8,316.27 L137.6,315.80 L138.4,315.36 L139.2,316.62 L140.0,318.85 L140.8,321.43 L141.6,321.38 L142.4,321.91 L143.2,322.25 L144.0,322.14 L144.8,322.44 L145.6,322.56 L146.4,323.22 L147.2,323.07 L148.0,322.79 L148.8,323.03 L149.6,322.89 L150.4,322.44 L151.2,323.04 L152.0,322.49 L152.8,322.83 L153.6,322.59 L154.4,322.92 L155.2,322.88 L156.0,322.52 L156.8,322.13 L157.6,322.19 L158.4,322.33 L159.2,321.95 L160.0,321.87 L160.8,321.90 L161.6,321.75 L162.4,321.74 L163.2,321.38 L164.0,321.26 L164.8,320.69 L165.6,320.02 L166.4,319.78 L167.2,318.07 L168.0,314.17 L168.8,308.97 L169.6,301.07 L170.4,292.85 L171.2,290.87 L172.0,293.57 L172.8,298.18 L173.6,296.58 L174.4,290.90 L175.2,289.27 L176.0,290.50 L176.8,295.79 L177.6,301.10 L178.4,306.13 L179.2,308.89 L180.0,309.91 L180.8,307.14 L181.6,302.43 L182.4,295.03 L183.2,285.99 L184.0,276.81 L184.8,269.94 L185.6,266.86 L186.4,268.62 L187.2,275.03 L188.0,283.96 L188.8,294.00 L189.6,302.32 L190.4,309.43 L191.2,313.63 L192.0,317.01 L192.8,319.13 L193.6,319.89 L194.4,320.47 L195.2,321.16 L196.0,320.93 L196.8,320.94 L197.6,320.59 L198.4,319.55 L199.2,318.90 L200.0,318.80 L200.8,319.61 L201.6,319.26 L202.4,319.70 L203.2,320.38 L204.0,320.63 L204.8,320.83 L205.6,321.12 L206.4,321.83 L207.2,321.89 L208.0,321.79 L208.8,322.57 L209.6,322.17 L210.4,322.36 L211.2,321.87 L212.0,321.85 L212.8,322.89 L213.6,323.55 L214.4,322.65 L215.2,323.23 L216.0,323.67 L216.8,323.52 L217.6,323.55 L218.4,323.38 L219.2,323.16 L220.0,323.73 L220.8,323.55 L221.6,323.43 L222.4,322.60 L223.2,323.65 L224.0,322.75 L224.8,322.59 L225.6,322.58 L226.4,321.92 L227.2,321.16 L228.0,321.64 L228.8,322.10 L229.6,322.02 L230.4,322.23 L231.2,321.44 L232.0,321.35 L232.8,321.96 L233.6,322.67 L234.4,322.40 L235.2,323.22 L236.0,322.97 L236.8,323.39 L237.6,322.82 L238.4,323.75 L239.2,323.16 L240.0,322.91 L240.8,323.14 L241.6,322.62 L242.4,323.33 L243.2,323.03 L244.0,323.15 L244.8,322.84 L245.6,322.02 L246.4,322.05 L247.2,322.52 L248.0,322.42 L248.8,323.04 L249.6,322.58 L250.4,323.16 L251.2,322.98 L252.0,323.52 L252.8,323.26 L253.6,323.21 L254.4,322.94 L255.2,323.18 L256.0,323.36 L256.8,323.03 L257.6,323.23 L258.4,322.75 L259.2,322.89 L260.0,322.99 L260.8,322.66 L261.6,323.02 L262.4,322.66 L263.2,322.23 L264.0,322.04 L264.8,322.09 L265.6,321.40 L266.4,320.56 L267.2,318.72 L268.0,316.50 L268.8,312.47 L269.6,308.03 L270.4,304.47 L271.2,302.83 L272.0,306.01 L272.8,310.32 L273.6,314.59 L274.4,317.64 L275.2,319.57 L276.0,320.74 L276.8,320.36 L277.6,320.65 L278.4,321.42 L279.2,321.41 L280.0,320.79 L280.8,321.26 L281.6,321.17 L282.4,320.54 L283.2,320.55 L284.0,320.72 L284.8,320.35 L285.6,320.64 L286.4,320.09 L287.2,319.94 L288.0,319.39 L288.8,319.08 L289.6,319.12 L290.4,319.51 L291.2,319.40 L292.0,318.72 L292.8,318.75 L293.6,317.91 L294.4,318.86 L295.2,318.15 L296.0,318.67 L296.8,318.47 L297.6,317.67 L298.4,317.67 L299.2,317.96 L300.0,317.92 L300.8,317.41 L301.6,317.27 L302.4,317.75 L303.2,318.03 L304.0,317.46 L304.8,317.75 L305.6,318.24 L306.4,318.11 L307.2,317.77 L308.0,318.05 L308.8,318.31 L309.6,318.50 L310.4,318.44 L311.2,318.43 L312.0,318.20 L312.8,319.00 L313.6,319.01 L314.4,318.84 L315.2,318.70 L316.0,318.49 L316.8,318.30 L317.6,317.69 L318.4,317.57 L319.2,318.51 L320.0,318.77 L320.8,319.39 L321.6,320.08 L322.4,320.20 L323.2,320.56 L324.0,320.56 L324.8,321.38 L325.6,320.74 L326.4,321.59 L327.2,321.02 L328.0,321.18 L328.8,321.28 L329.6,321.63 L330.4,321.51 L331.2,321.38 L332.0,321.19 L332.8,321.87 L333.6,321.68 L334.4,321.90 L335.2,321.73 L336.0,321.46 L336.8,321.74 L337.6,321.55 L338.4,321.63 L339.2,321.14 L340.0,320.42 L340.8,320.92 L341.6,320.37 L342.4,319.81 L343.2,318.67 L344.0,318.87 L344.8,318.59 L345.6,317.53 L346.4,316.73 L347.2,315.73 L348.0,314.20 L348.8,312.65 L349.6,312.15 L350.4,311.52 L351.2,310.90 L352.0,309.86 L352.8,309.73 L353.6,310.56 L354.4,311.14 L355.2,312.00 L356.0,313.93 L356.8,315.53 L357.6,317.08 L358.4,318.15 L359.2,319.07 L360.0,319.64 L360.8,319.94 L361.6,320.63 L362.4,321.33 L363.2,320.53 L364.0,321.05 L364.8,320.18 L365.6,320.30 L366.4,320.98 L367.2,321.05 L368.0,321.45 L368.8,321.39 L369.6,321.85 L370.4,321.93 L371.2,321.02 L372.0,321.34 L372.8,321.04 L373.6,320.71 L374.4,319.20 L375.2,319.47 L376.0,318.14 L376.8,317.43 L377.6,316.28 L378.4,314.94 L379.2,314.04 L380.0,313.05 L380.8,312.30 L381.6,311.28 L382.4,309.27 L383.2,307.12 L384.0,303.19 L384.8,298.62 L385.6,292.80 L386.4,289.61 L387.2,289.15 L388.0,292.00 L388.8,295.72 L389.6,297.99 L390.4,297.12 L391.2,292.95 L392.0,285.42 L392.8,276.43 L393.6,268.87 L394.4,267.26 L395.2,271.56 L396.0,280.18 L396.8,288.83 L397.6,296.30 L398.4,301.90 L399.2,304.12 L400.0,304.48 L400.8,304.86 L401.6,303.45 L402.4,300.56 L403.2,295.77 L404.0,287.92 L404.8,277.23 L405.6,263.93 L406.4,249.60 L407.2,236.88 L408.0,228.56 L408.8,228.65 L409.6,236.27 L410.4,249.03 L411.2,264.22 L412.0,279.10 L412.8,291.21 L413.6,301.26 L414.4,306.71 L415.2,311.14 L416.0,313.94 L416.8,315.86 L417.6,316.72 L418.4,316.65 L419.2,316.85 L420.0,316.82 L420.8,317.18 L421.6,317.77 L422.4,316.84 L423.2,318.17 L424.0,317.58 L424.8,316.51 L425.6,315.64 L426.4,314.42 L427.2,313.67 L428.0,313.19 L428.8,313.19 L429.6,312.83 L430.4,313.49 L431.2,313.38 L432.0,313.61 L432.8,314.16 L433.6,313.81 L434.4,313.81 L435.2,313.61 L436.0,313.35 L436.8,312.77 L437.6,313.01 L438.4,312.85 L439.2,313.35 L440.0,312.27 L440.8,312.63 L441.6,311.95 L442.4,311.44 L443.2,311.11 L444.0,309.04 L444.8,306.59 L445.6,302.74 L446.4,298.56 L447.2,296.13 L448.0,296.53 L448.8,300.10 L449.6,305.60 L450.4,309.54 L451.2,311.99 L452.0,314.25 L452.8,313.79 L453.6,312.93 L454.4,311.42 L455.2,308.75 L456.0,306.98 L456.8,305.34 L457.6,303.73 L458.4,301.56 L459.2,298.10 L460.0,293.59 L460.8,288.72 L461.6,286.60 L462.4,289.27 L463.2,293.23 L464.0,298.88 L464.8,302.97 L465.6,305.95 L466.4,308.51 L467.2,310.02 L468.0,311.96 L468.8,313.05 L469.6,314.46 L470.4,315.25 L471.2,315.88 L472.0,316.42 L472.8,316.62 L473.6,316.17 L474.4,316.65 L475.2,316.15 L476.0,315.97 L476.8,315.15 L477.6,316.00 L478.4,315.93 L479.2,317.16 L480.0,317.29 L480.8,317.98 L481.6,318.55 L482.4,318.73 L483.2,319.28 L484.0,319.16 L484.8,319.51 L485.6,319.75 L486.4,319.88 L487.2,319.98 L488.0,319.53 L488.8,319.31 L489.6,319.82 L490.4,320.36 L491.2,319.91 L492.0,320.74 L492.8,320.60 L493.6,320.19 L494.4,321.10 L495.2,321.68 L496.0,321.48 L496.8,321.58 L497.6,321.54 L498.4,321.09 L499.2,320.98 L500.0,321.53 L500.8,321.73 L501.6,321.73 L502.4,321.72 L503.2,322.11 L504.0,322.38 L504.8,321.48 L505.6,321.68 L506.4,321.93 L507.2,321.97 L508.0,321.49 L508.8,322.88 L509.6,322.37 L510.4,322.41 L511.2,321.80 L512.0,322.55 L512.8,322.10 L513.6,322.66 L514.4,322.62 L515.2,322.47 L516.0,322.55 L516.8,322.21 L517.6,322.43 L518.4,321.72 L519.2,322.39 L520.0,322.20 L520.8,322.99 L521.6,322.41 L522.4,321.79 L523.2,322.85 L524.0,322.35 L524.8,322.19 L525.6,322.46 L526.4,322.72 L527.2,322.92 L528.0,322.34 L528.8,322.55 L529.6,322.59 L530.4,322.36 L531.2,322.46 L532.0,322.46 L532.8,322.49 L533.6,322.81 L534.4,321.98 L535.2,322.65 L536.0,322.55 L536.8,322.96 L537.6,322.47 L538.4,322.49 L539.2,322.64 L540.0,322.41 L540.8,322.44 L541.6,322.41 L542.4,322.48"/>
<path d="M20.0,378.23 L20.8,377.98 L21.6,376.70 L22.4,376.82 L23.2,375.04 L24.0,376.36 L24.8,375.40 L25.6,376.97 L26.4,375.77 L27.2,377.05 L28.0,376.24 L28.8,377.75 L29.6,376.21 L30.4,377.76 L31.2,377.20 L32.0,374.93 L32.8,375.38 L33.6,376.59 L34.4,376.05 L35.2,377.04 L36.0,373.92 L36.8,373.25 L37.6,372.23 L38.4,370.40 L39.2,369.42 L40.0,365.59 L40.8,361.29 L41.6,360.01 L42.4,353.85 L43.2,346.98 L44.0,341.83 L44.8,336.32 L45.6,331.58 L46.4,328.27 L47.2,325.80 L48.0,325.81 L48.8,326.72 L49.6,329.81 L50.4,333.38 L51.2,337.46 L52.0,339.27 L52.8,344.22 L53.6,349.77 L54.4,354.83 L55.2,357.87 L56.0,358.62 L56.8,362.05 L57.6,366.82 L58.4,368.79 L59.2,370.51 L60.0,373.71 L60.8,373.03 L61.6,376.10 L62.4,375.66 L63.2,375.45 L64.0,374.80 L64.8,375.62 L65.6,378.01 L66.4,376.61 L67.2,377.45 L68.0,377.51 L68.8,377.02 L69.6,378.05 L70.4,377.04 L71.2,376.79 L72.0,376.53 L72.8,375.91 L73.6,376.23 L74.4,375.46 L75.2,376.41 L76.0,375.25 L76.8,374.48 L77.6,373.56 L78.4,375.71 L79.2,377.01 L80.0,375.28 L80.8,373.52 L81.6,376.17 L82.4,375.01 L83.2,376.29 L84.0,376.11 L84.8,376.46 L85.6,376.09 L86.4,375.88 L87.2,376.94 L88.0,376.13 L88.8,377.68 L89.6,376.38 L90.4,377.29 L91.2,376.82 L92.0,378.67 L92.8,377.28 L93.6,377.04 L94.4,378.18 L95.2,377.38 L96.0,376.71 L96.8,375.62 L97.6,376.29 L98.4,376.35 L99.2,376.62 L100.0,375.05 L100.8,375.52 L101.6,373.44 L102.4,375.21 L103.2,375.00 L104.0,376.86 L104.8,376.53 L105.6,379.28 L106.4,377.87 L107.2,378.23 L108.0,376.39 L108.8,376.80 L109.6,378.45 L110.4,376.87 L111.2,377.86 L112.0,376.29 L112.8,377.49 L113.6,376.69 L114.4,377.77 L115.2,377.81 L116.0,378.11 L116.8,376.10 L117.6,374.12 L118.4,373.32 L119.2,370.72 L120.0,370.49 L120.8,369.88 L121.6,373.12 L122.4,374.22 L123.2,374.61 L124.0,376.06 L124.8,376.98 L125.6,376.24 L126.4,376.50 L127.2,376.32 L128.0,375.22 L128.8,374.98 L129.6,372.15 L130.4,369.43 L131.2,368.62 L132.0,369.99 L132.8,371.84 L133.6,374.58 L134.4,373.16 L135.2,376.37 L136.0,376.83 L136.8,375.01 L137.6,376.14 L138.4,374.53 L139.2,375.43 L140.0,375.75 L140.8,377.90 L141.6,377.87 L142.4,378.02 L143.2,376.36 L144.0,377.48 L144.8,376.46 L145.6,377.27 L146.4,377.83 L147.2,378.55 L148.0,377.28 L148.8,377.82 L149.6,377.60 L150.4,376.97 L151.2,379.37 L152.0,378.40 L152.8,379.38 L153.6,378.85 L154.4,377.05 L155.2,377.45 L156.0,378.43 L156.8,378.14 L157.6,377.70 L158.4,377.10 L159.2,377.66 L160.0,376.28 L160.8,376.37 L161.6,376.03 L162.4,377.56 L163.2,376.63 L164.0,376.37 L164.8,374.98 L165.6,372.38 L166.4,371.55 L167.2,368.60 L168.0,360.76 L168.8,348.75 L169.6,331.47 L170.4,314.88 L171.2,314.12 L172.0,324.49 L172.8,341.98 L173.6,351.21 L174.4,360.17 L175.2,361.27 L176.0,365.67 L176.8,368.03 L177.6,368.00 L178.4,369.28 L179.2,368.52 L180.0,363.13 L180.8,359.77 L181.6,355.62 L182.4,347.55 L183.2,340.72 L184.0,337.65 L184.8,334.31 L185.6,334.87 L186.4,338.83 L187.2,346.68 L188.0,353.87 L188.8,359.83 L189.6,366.90 L190.4,367.73 L191.2,373.20 L192.0,373.30 L192.8,375.78 L193.6,375.16 L194.4,374.97 L195.2,375.11 L196.0,375.74 L196.8,375.20 L197.6,376.41 L198.4,374.17 L199.2,372.07 L200.0,371.08 L200.8,372.96 L201.6,374.15 L202.4,372.67 L203.2,373.98 L204.0,374.83 L204.8,373.59 L205.6,372.67 L206.4,374.68 L207.2,375.70 L208.0,374.52 L208.8,375.03 L209.6,376.04 L210.4,375.77 L211.2,375.02 L212.0,375.52 L212.8,376.00 L213.6,376.23 L214.4,377.60 L215.2,376.02 L216.0,377.28 L216.8,376.91 L217.6,375.38 L218.4,377.98 L219.2,377.26 L220.0,376.12 L220.8,375.72 L221.6,377.79 L222.4,378.49 L223.2,377.01 L224.0,376.95 L224.8,377.29 L225.6,375.70 L226.4,374.94 L227.2,375.81 L228.0,374.53 L228.8,376.79 L229.6,376.78 L230.4,377.56 L231.2,375.02 L232.0,377.20 L232.8,376.23 L233.6,377.82 L234.4,377.21 L235.2,377.37 L236.0,378.96 L236.8,378.28 L237.6,378.35 L238.4,378.43 L239.2,378.25 L240.0,376.49 L240.8,377.55 L241.6,377.46 L242.4,379.82 L243.2,379.27 L244.0,377.60 L244.8,377.48 L245.6,379.36 L246.4,379.24 L247.2,379.40 L248.0,377.07 L248.8,379.40 L249.6,377.62 L250.4,378.24 L251.2,377.51 L252.0,377.15 L252.8,377.26 L253.6,378.75 L254.4,375.27 L255.2,378.78 L256.0,378.61 L256.8,377.49 L257.6,378.31 L258.4,377.91 L259.2,376.78 L260.0,377.98 L260.8,378.47 L261.6,378.07 L262.4,377.54 L263.2,378.32 L264.0,378.07 L264.8,378.04 L265.6,376.92 L266.4,377.17 L267.2,373.89 L268.0,371.84 L268.8,367.52 L269.6,364.45 L270.4,360.62 L271.2,359.12 L272.0,360.37 L272.8,366.69 L273.6,368.65 L274.4,372.77 L275.2,373.22 L276.0,377.59 L276.8,377.76 L277.6,377.02 L278.4,377.55 L279.2,375.84 L280.0,375.77 L280.8,375.74 L281.6,376.32 L282.4,375.68 L283.2,375.88 L284.0,374.90 L284.8,374.51 L285.6,375.84 L286.4,376.12 L287.2,375.93 L288.0,375.05 L288.8,375.67 L289.6,374.11 L290.4,374.37 L291.2,375.23 L292.0,374.08 L292.8,373.92 L293.6,374.08 L294.4,376.24 L295.2,374.51 L296.0,375.03 L296.8,374.79 L297.6,377.22 L298.4,375.24 L299.2,375.94 L300.0,375.96 L300.8,375.65 L301.6,375.21 L302.4,373.56 L303.2,375.01 L304.0,376.34 L304.8,375.00 L305.6,376.19 L306.4,375.12 L307.2,375.35 L308.0,374.41 L308.8,374.94 L309.6,375.46 L310.4,376.17 L311.2,374.57 L312.0,374.40 L312.8,375.70 L313.6,375.76 L314.4,375.96 L315.2,376.70 L316.0,374.28 L316.8,375.44 L317.6,373.51 L318.4,372.61 L319.2,372.06 L320.0,375.57 L320.8,376.80 L321.6,376.34 L322.4,376.65 L323.2,376.59 L324.0,375.25 L324.8,376.36 L325.6,375.65 L326.4,376.15 L327.2,376.97 L328.0,377.21 L328.8,378.38 L329.6,379.03 L330.4,377.89 L331.2,378.85 L332.0,377.98 L332.8,378.11 L333.6,378.69 L334.4,377.99 L335.2,378.85 L336.0,378.34 L336.8,378.18 L337.6,378.09 L338.4,379.50 L339.2,378.25 L340.0,377.21 L340.8,377.01 L341.6,375.83 L342.4,376.00 L343.2,376.24 L344.0,375.07 L344.8,376.53 L345.6,376.66 L346.4,375.67 L347.2,374.31 L348.0,374.19 L348.8,371.63 L349.6,372.49 L350.4,372.09 L351.2,371.52 L352.0,372.14 L352.8,369.86 L353.6,370.95 L354.4,371.74 L355.2,373.03 L356.0,374.97 L356.8,376.86 L357.6,377.89 L358.4,378.68 L359.2,378.14 L360.0,378.89 L360.8,378.98 L361.6,378.67 L362.4,379.28 L363.2,377.34 L364.0,377.50 L364.8,377.81 L365.6,377.82 L366.4,379.32 L367.2,378.77 L368.0,381.06 L368.8,378.99 L369.6,381.72 L370.4,379.90 L371.2,379.53 L372.0,379.86 L372.8,379.69 L373.6,379.76 L374.4,379.65 L375.2,379.92 L376.0,379.72 L376.8,377.54 L377.6,378.86 L378.4,377.18 L379.2,375.77 L380.0,375.41 L380.8,373.37 L381.6,373.02 L382.4,369.01 L383.2,368.91 L384.0,365.22 L384.8,363.85 L385.6,360.92 L386.4,361.30 L387.2,360.25 L388.0,361.45 L388.8,360.44 L389.6,358.68 L390.4,355.87 L391.2,349.50 L392.0,338.12 L392.8,325.60 L393.6,320.51 L394.4,318.41 L395.2,326.81 L396.0,336.62 L396.8,347.37 L397.6,356.41 L398.4,359.51 L399.2,363.77 L400.0,365.52 L400.8,365.88 L401.6,364.45 L402.4,365.81 L403.2,362.75 L404.0,359.77 L404.8,354.36 L405.6,350.33 L406.4,344.95 L407.2,339.04 L408.0,334.44 L408.8,332.86 L409.6,335.34 L410.4,340.68 L411.2,347.52 L412.0,353.33 L412.8,359.25 L413.6,364.04 L414.4,366.37 L415.2,369.01 L416.0,369.97 L416.8,369.66 L417.6,371.50 L418.4,370.69 L419.2,369.03 L420.0,368.54 L420.8,368.75 L421.6,368.56 L422.4,368.48 L423.2,369.74 L424.0,369.38 L424.8,368.75 L425.6,370.02 L426.4,367.75 L427.2,367.33 L428.0,365.11 L428.8,364.42 L429.6,363.63 L430.4,365.17 L431.2,365.37 L432.0,365.25 L432.8,365.93 L433.6,367.07 L434.4,366.64 L435.2,367.24 L436.0,368.02 L436.8,366.34 L437.6,367.05 L438.4,366.02 L439.2,365.57 L440.0,364.73 L440.8,364.87 L441.6,364.27 L442.4,363.57 L443.2,360.87 L444.0,361.24 L444.8,360.89 L445.6,357.91 L446.4,356.25 L447.2,356.55 L448.0,358.40 L448.8,358.83 L449.6,362.49 L450.4,364.18 L451.2,365.68 L452.0,366.70 L452.8,366.42 L453.6,366.32 L454.4,366.75 L455.2,367.13 L456.0,365.85 L456.8,365.21 L457.6,362.87 L458.4,361.40 L459.2,358.29 L460.0,357.24 L460.8,354.73 L461.6,352.61 L462.4,352.12 L463.2,351.13 L464.0,351.37 L464.8,353.23 L465.6,353.42 L466.4,357.14 L467.2,361.33 L468.0,362.11 L468.8,364.89 L469.6,369.14 L470.4,369.91 L471.2,371.64 L472.0,372.29 L472.8,371.03 L473.6,372.71 L474.4,371.85 L475.2,371.12 L476.0,369.81 L476.8,368.44 L477.6,368.02 L478.4,367.91 L479.2,368.97 L480.0,370.03 L480.8,371.77 L481.6,372.34 L482.4,372.25 L483.2,374.50 L484.0,372.97 L484.8,374.44 L485.6,374.98 L486.4,372.92 L487.2,373.15 L488.0,373.81 L488.8,374.87 L489.6,373.73 L490.4,373.72 L491.2,374.63 L492.0,373.12 L492.8,373.66 L493.6,375.84 L494.4,376.33 L495.2,376.66 L496.0,376.53 L496.8,377.22 L497.6,375.50 L498.4,375.94 L499.2,376.71 L500.0,377.75 L500.8,377.31 L501.6,377.26 L502.4,376.48 L503.2,377.83 L504.0,378.00 L504.8,378.38 L505.6,377.79 L506.4,379.53 L507.2,377.04 L508.0,378.83 L508.8,377.07 L509.6,377.15 L510.4,378.64 L511.2,377.71 L512.0,377.22 L512.8,377.80 L513.6,379.98 L514.4,377.56 L515.2,377.82 L516.0,379.35 L516.8,378.04 L517.6,380.44 L518.4,377.40 L519.2,378.41 L520.0,379.61 L520.8,378.83 L521.6,378.91 L522.4,378.22 L523.2,379.39 L524.0,380.19 L524.8,379.16 L525.6,378.26 L526.4,380.01 L527.2,379.63 L528.0,379.34 L528.8,378.75 L529.6,378.39 L530.4,380.04 L531.2,379.13 L532.0,378.65 L532.8,378.96 L533.6,379.11 L534.4,379.94 L535.2,379.35 L536.0,379.05 L536.8,378.47 L537.6,378.99 L538.4,379.18 L539.2,379.06 L540.0,378.81 L540.8,378.57 L541.6,379.15 L542.4,379.87"/>
<path d="M20.0,432.56 L20.8,432.29 L21.6,431.66 L22.4,431.08 L23.2,430.29 L24.0,429.91 L24.8,430.37 L25.6,430.74 L26.4,431.46 L27.2,431.96 L28.0,432.33 L28.8,432.46 L29.6,432.82 L30.4,432.35 L31.2,432.38 L32.0,432.56 L32.8,431.99 L33.6,431.64 L34.4,431.19 L35.2,430.49 L36.0,429.84 L36.8,428.84 L37.6,427.17 L38.4,425.30 L39.2,423.27 L40.0,420.12 L40.8,416.85 L41.6,413.10 L42.4,408.22 L43.2,403.59 L44.0,398.45 L44.8,393.18 L45.6,388.90 L46.4,384.58 L47.2,381.06 L48.0,378.83 L48.8,377.72 L49.6,378.23 L50.4,380.21 L51.2,383.31 L52.0,387.33 L52.8,392.29 L53.6,397.00 L54.4,401.97 L55.2,407.09 L56.0,411.65 L56.8,415.91 L57.6,419.27 L58.4,422.06 L59.2,424.62 L60.0,426.88 L60.8,428.20 L61.6,429.58 L62.4,430.65 L63.2,430.85 L64.0,431.30 L64.8,431.82 L65.6,432.09 L66.4,432.36 L67.2,432.19 L68.0,432.54 L68.8,432.46 L69.6,432.28 L70.4,432.40 L71.2,432.35 L72.0,432.29 L72.8,431.67 L73.6,431.45 L74.4,430.74 L75.2,430.68 L76.0,430.22 L76.8,430.18 L77.6,429.54 L78.4,429.51 L79.2,429.31 L80.0,429.72 L80.8,429.25 L81.6,429.06 L82.4,429.49 L83.2,430.07 L84.0,430.54 L84.8,431.05 L85.6,431.31 L86.4,431.95 L87.2,432.03 L88.0,432.44 L88.8,432.93 L89.6,433.12 L90.4,433.08 L91.2,432.94 L92.0,433.16 L92.8,433.21 L93.6,433.53 L94.4,433.17 L95.2,433.01 L96.0,432.94 L96.8,432.81 L97.6,432.59 L98.4,432.03 L99.2,431.56 L100.0,430.27 L100.8,429.23 L101.6,429.40 L102.4,429.53 L103.2,430.47 L104.0,431.44 L104.8,432.21 L105.6,432.73 L106.4,433.01 L107.2,433.11 L108.0,433.22 L108.8,433.14 L109.6,433.21 L110.4,433.20 L111.2,433.28 L112.0,433.08 L112.8,433.11 L113.6,433.31 L114.4,433.23 L115.2,433.18 L116.0,432.56 L116.8,431.45 L117.6,429.65 L118.4,426.72 L119.2,423.48 L120.0,421.94 L120.8,423.55 L121.6,426.64 L122.4,429.30 L123.2,431.05 L124.0,432.04 L124.8,432.36 L125.6,432.84 L126.4,432.38 L127.2,431.46 L128.0,430.69 L128.8,428.50 L129.6,425.91 L130.4,423.45 L131.2,422.60 L132.0,423.94 L132.8,426.73 L133.6,429.24 L134.4,431.47 L135.2,432.22 L136.0,432.65 L136.8,432.83 L137.6,433.22 L138.4,433.22 L139.2,433.37 L140.0,433.44 L140.8,433.19 L141.6,433.41 L142.4,433.27 L143.2,433.27 L144.0,433.25 L144.8,433.37 L145.6,433.28 L146.4,433.28 L147.2,433.32 L148.0,433.18 L148.8,433.55 L149.6,433.40 L150.4,433.22 L151.2,433.29 L152.0,433.07 L152.8,433.21 L153.6,432.85 L154.4,432.99 L155.2,432.95 L156.0,432.78 L156.8,432.83 L157.6,432.49 L158.4,432.57 L159.2,432.48 L160.0,432.26 L160.8,431.98 L161.6,431.97 L162.4,431.41 L163.2,430.89 L164.0,430.09 L164.8,429.38 L165.6,427.83 L166.4,425.50 L167.2,419.58 L168.0,408.04 L168.8,388.91 L169.6,363.23 L170.4,340.90 L171.2,339.57 L172.0,360.47 L172.8,385.83 L173.6,405.75 L174.4,417.95 L175.2,423.30 L176.0,425.52 L176.8,426.28 L177.6,426.19 L178.4,425.14 L179.2,422.57 L180.0,418.45 L180.8,413.29 L181.6,406.11 L182.4,397.97 L183.2,390.30 L184.0,385.69 L184.8,385.39 L185.6,390.13 L186.4,397.88 L187.2,406.30 L188.0,413.57 L188.8,419.57 L189.6,424.16 L190.4,426.98 L191.2,428.77 L192.0,429.81 L192.8,430.34 L193.6,430.75 L194.4,430.63 L195.2,430.95 L196.0,430.68 L196.8,430.01 L197.6,428.67 L198.4,426.66 L199.2,425.40 L200.0,425.44 L200.8,426.93 L201.6,428.13 L202.4,428.76 L203.2,429.31 L204.0,429.02 L204.8,429.18 L205.6,429.21 L206.4,429.27 L207.2,429.60 L208.0,429.80 L208.8,429.96 L209.6,430.55 L210.4,430.65 L211.2,431.12 L212.0,431.19 L212.8,431.55 L213.6,432.03 L214.4,432.64 L215.2,432.32 L216.0,432.51 L216.8,432.74 L217.6,432.93 L218.4,433.10 L219.2,433.28 L220.0,433.17 L220.8,433.31 L221.6,433.24 L222.4,433.07 L223.2,432.94 L224.0,432.81 L224.8,432.17 L225.6,431.26 L226.4,429.72 L227.2,428.87 L228.0,429.30 L228.8,430.51 L229.6,431.52 L230.4,431.56 L231.2,431.15 L232.0,430.29 L232.8,430.82 L233.6,431.83 L234.4,432.39 L235.2,433.05 L236.0,433.49 L236.8,433.51 L237.6,433.62 L238.4,433.93 L239.2,433.70 L240.0,433.75 L240.8,433.79 L241.6,433.62 L242.4,433.78 L243.2,433.55 L244.0,433.55 L244.8,433.91 L245.6,433.96 L246.4,433.83 L247.2,433.55 L248.0,433.56 L248.8,433.46 L249.6,433.44 L250.4,433.57 L251.2,433.50 L252.0,433.76 L252.8,433.36 L253.6,433.50 L254.4,433.39 L255.2,433.34 L256.0,433.80 L256.8,433.78 L257.6,433.57 L258.4,433.54 L259.2,433.53 L260.0,433.46 L260.8,432.91 L261.6,433.00 L262.4,433.35 L263.2,432.81 L264.0,433.20 L264.8,432.82 L265.6,432.25 L266.4,431.30 L267.2,429.67 L268.0,426.61 L268.8,422.63 L269.6,416.84 L270.4,411.67 L271.2,409.94 L272.0,412.13 L272.8,417.32 L273.6,422.77 L274.4,427.06 L275.2,429.29 L276.0,430.81 L276.8,431.33 L277.6,431.94 L278.4,432.37 L279.2,432.15 L280.0,432.26 L280.8,432.06 L281.6,432.02 L282.4,431.93 L283.2,432.02 L284.0,431.91 L284.8,431.43 L285.6,431.72 L286.4,431.83 L287.2,431.65 L288.0,431.34 L288.8,431.46 L289.6,431.23 L290.4,431.06 L291.2,430.83 L292.0,430.71 L292.8,430.73 L293.6,430.76 L294.4,430.23 L295.2,430.05 L296.0,430.43 L296.8,430.01 L297.6,430.48 L298.4,430.12 L299.2,429.86 L300.0,430.20 L300.8,430.27 L301.6,429.92 L302.4,430.20 L303.2,430.59 L304.0,430.18 L304.8,430.61 L305.6,430.72 L306.4,431.11 L307.2,431.11 L308.0,430.96 L308.8,430.94 L309.6,431.28 L310.4,431.41 L311.2,431.43 L312.0,431.42 L312.8,431.35 L313.6,431.48 L314.4,430.81 L315.2,430.11 L316.0,429.26 L316.8,428.01 L317.6,426.99 L318.4,427.07 L319.2,427.53 L320.0,428.98 L320.8,430.41 L321.6,431.32 L322.4,432.15 L323.2,432.69 L324.0,432.92 L324.8,433.01 L325.6,432.93 L326.4,433.04 L327.2,433.28 L328.0,433.26 L328.8,433.27 L329.6,433.29 L330.4,433.11 L331.2,433.49 L332.0,433.20 L332.8,433.56 L333.6,433.77 L334.4,433.45 L335.2,433.39 L336.0,433.16 L336.8,433.08 L337.6,433.10 L338.4,433.21 L339.2,432.95 L340.0,432.56 L340.8,432.75 L341.6,432.32 L342.4,432.34 L343.2,431.93 L344.0,431.45 L344.8,430.98 L345.6,430.26 L346.4,428.89 L347.2,427.60 L348.0,425.60 L348.8,424.76 L349.6,424.05 L350.4,424.31 L351.2,424.37 L352.0,423.90 L352.8,422.80 L353.6,422.59 L354.4,423.02 L355.2,424.51 L356.0,426.52 L356.8,428.44 L357.6,429.40 L358.4,430.08 L359.2,430.50 L360.0,431.11 L360.8,431.31 L361.6,431.09 L362.4,430.85 L363.2,430.19 L364.0,429.86 L364.8,429.37 L365.6,429.11 L366.4,429.71 L367.2,430.71 L368.0,431.21 L368.8,431.38 L369.6,431.96 L370.4,432.12 L371.2,431.80 L372.0,432.27 L372.8,432.34 L373.6,431.98 L374.4,431.80 L375.2,431.65 L376.0,431.33 L376.8,430.90 L377.6,430.37 L378.4,429.27 L379.2,428.35 L380.0,427.36 L380.8,425.44 L381.6,423.55 L382.4,421.51 L383.2,419.09 L384.0,417.05 L384.8,416.08 L385.6,414.89 L386.4,414.64 L387.2,415.04 L388.0,414.71 L388.8,413.17 L389.6,409.31 L390.4,401.52 L391.2,389.32 L392.0,373.51 L392.8,356.47 L393.6,344.96 L394.4,345.85 L395.2,358.17 L396.0,375.38 L396.8,391.45 L397.6,404.08 L398.4,412.51 L399.2,416.88 L400.0,419.75 L400.8,420.47 L401.6,420.74 L402.4,420.78 L403.2,420.55 L404.0,419.19 L404.8,417.58 L405.6,415.19 L406.4,411.99 L407.2,409.01 L408.0,406.34 L408.8,404.74 L409.6,404.94 L410.4,407.67 L411.2,411.29 L412.0,415.18 L412.8,418.94 L413.6,421.72 L414.4,423.93 L415.2,425.14 L416.0,426.17 L416.8,426.77 L417.6,426.22 L418.4,425.84 L419.2,424.81 L420.0,424.28 L420.8,423.71 L421.6,424.17 L422.4,424.70 L423.2,425.54 L424.0,426.04 L424.8,426.75 L425.6,426.95 L426.4,425.97 L427.2,425.49 L428.0,424.24 L428.8,422.86 L429.6,421.53 L430.4,421.04 L431.2,421.41 L432.0,422.56 L432.8,423.72 L433.6,424.81 L434.4,425.27 L435.2,425.63 L436.0,425.43 L436.8,425.22 L437.6,424.11 L438.4,423.50 L439.2,422.47 L440.0,421.53 L440.8,420.72 L441.6,419.64 L442.4,418.88 L443.2,418.55 L444.0,418.64 L444.8,418.89 L445.6,419.59 L446.4,420.17 L447.2,421.50 L448.0,422.41 L448.8,423.40 L449.6,424.57 L450.4,425.19 L451.2,426.20 L452.0,426.98 L452.8,427.09 L453.6,427.37 L454.4,427.97 L455.2,427.99 L456.0,427.98 L456.8,427.50 L457.6,427.43 L458.4,427.25 L459.2,425.89 L460.0,424.60 L460.8,422.75 L461.6,420.20 L462.4,417.12 L463.2,413.69 L464.0,411.39 L464.8,409.42 L465.6,409.85 L466.4,411.66 L467.2,414.16 L468.0,417.49 L468.8,420.80 L469.6,423.38 L470.4,425.24 L471.2,426.34 L472.0,427.22 L472.8,427.23 L473.6,427.32 L474.4,426.52 L475.2,425.74 L476.0,424.21 L476.8,423.79 L477.6,423.71 L478.4,424.29 L479.2,425.22 L480.0,426.72 L480.8,427.61 L481.6,428.84 L482.4,429.12 L483.2,429.45 L484.0,429.49 L484.8,429.57 L485.6,429.34 L486.4,429.00 L487.2,428.49 L488.0,428.84 L488.8,428.82 L489.6,429.13 L490.4,429.35 L491.2,429.86 L492.0,430.05 L492.8,430.58 L493.6,430.83 L494.4,431.35 L495.2,431.37 L496.0,431.74 L496.8,431.73 L497.6,431.87 L498.4,431.91 L499.2,431.85 L500.0,432.14 L500.8,432.09 L501.6,432.36 L502.4,432.21 L503.2,432.41 L504.0,432.43 L504.8,432.18 L505.6,432.01 L506.4,432.12 L507.2,432.33 L508.0,432.18 L508.8,432.38 L509.6,432.14 L510.4,432.19 L511.2,432.27 L512.0,432.15 L512.8,432.11 L513.6,432.07 L514.4,432.16 L515.2,432.03 L516.0,432.20 L516.8,432.00 L517.6,432.58 L518.4,432.16 L519.2,431.94 L520.0,431.85 L520.8,431.98 L521.6,432.16 L522.4,431.97 L523.2,432.15 L524.0,431.92 L524.8,431.83 L525.6,431.93 L526.4,431.90 L527.2,431.92 L528.0,431.82 L528.8,431.95 L529.6,431.62 L530.4,431.91 L531.2,431.87 L532.0,431.86 L532.8,431.73 L533.6,431.85 L534.4,431.91 L535.2,431.64 L536.0,432.08 L536.8,431.94 L537.6,432.04 L538.4,432.19 L539.2,431.79 L540.0,431.76 L540.8,431.72 L541.6,431.87 L542.4,431.69"/>
<path d="M20.0,489.74 L20.8,489.07 L21.6,488.19 L22.4,487.27 L23.2,486.60 L24.0,486.21 L24.8,486.55 L25.6,487.16 L26.4,487.49 L27.2,488.19 L28.0,488.85 L28.8,488.69 L29.6,488.83 L30.4,488.44 L31.2,488.50 L32.0,488.13 L32.8,487.68 L33.6,487.03 L34.4,486.55 L35.2,485.63 L36.0,484.41 L36.8,482.76 L37.6,480.97 L38.4,478.82 L39.2,476.28 L40.0,473.62 L40.8,470.44 L41.6,466.96 L42.4,463.36 L43.2,459.78 L44.0,455.76 L44.8,452.23 L45.6,449.16 L46.4,446.30 L47.2,444.01 L48.0,442.50 L48.8,442.32 L49.6,442.40 L50.4,443.79 L51.2,445.53 L52.0,448.71 L52.8,451.33 L53.6,455.37 L54.4,458.93 L55.2,462.85 L56.0,466.40 L56.8,469.70 L57.6,472.64 L58.4,476.04 L59.2,477.99 L60.0,480.26 L60.8,481.89 L61.6,483.63 L62.4,485.22 L63.2,485.95 L64.0,486.87 L64.8,487.43 L65.6,487.92 L66.4,488.54 L67.2,488.76 L68.0,488.68 L68.8,488.67 L69.6,489.13 L70.4,488.82 L71.2,488.77 L72.0,488.52 L72.8,488.63 L73.6,488.52 L74.4,487.68 L75.2,487.92 L76.0,487.23 L76.8,486.95 L77.6,487.10 L78.4,487.14 L79.2,486.64 L80.0,486.50 L80.8,486.85 L81.6,486.71 L82.4,486.20 L83.2,487.03 L84.0,487.37 L84.8,487.88 L85.6,488.54 L86.4,488.77 L87.2,489.14 L88.0,489.82 L88.8,489.30 L89.6,489.74 L90.4,489.86 L91.2,489.53 L92.0,489.64 L92.8,489.67 L93.6,490.10 L94.4,489.74 L95.2,490.01 L96.0,489.69 L96.8,489.45 L97.6,489.47 L98.4,488.99 L99.2,487.90 L100.0,487.09 L100.8,486.59 L101.6,486.07 L102.4,486.40 L103.2,487.24 L104.0,488.23 L104.8,488.43 L105.6,489.68 L106.4,489.95 L107.2,490.04 L108.0,489.85 L108.8,489.87 L109.6,490.08 L110.4,489.76 L111.2,490.32 L112.0,489.79 L112.8,490.05 L113.6,489.86 L114.4,489.51 L115.2,489.30 L116.0,488.71 L116.8,487.89 L117.6,486.07 L118.4,483.15 L119.2,479.94 L120.0,478.57 L120.8,480.33 L121.6,483.21 L122.4,485.92 L123.2,487.51 L124.0,488.56 L124.8,489.15 L125.6,489.06 L126.4,488.92 L127.2,488.70 L128.0,487.36 L128.8,485.37 L129.6,482.55 L130.4,480.17 L131.2,479.23 L132.0,480.60 L132.8,482.91 L133.6,485.67 L134.4,487.76 L135.2,488.76 L136.0,489.43 L136.8,489.42 L137.6,489.57 L138.4,489.83 L139.2,489.73 L140.0,489.96 L140.8,489.53 L141.6,489.68 L142.4,490.13 L143.2,490.15 L144.0,490.04 L144.8,490.16 L145.6,490.24 L146.4,489.87 L147.2,490.34 L148.0,490.15 L148.8,489.85 L149.6,489.71 L150.4,489.95 L151.2,489.76 L152.0,490.04 L152.8,489.84 L153.6,489.52 L154.4,489.64 L155.2,489.64 L156.0,489.61 L156.8,489.57 L157.6,489.18 L158.4,489.27 L159.2,488.93 L160.0,488.73 L160.8,488.07 L161.6,488.18 L162.4,487.65 L163.2,487.56 L164.0,486.98 L164.8,486.03 L165.6,484.87 L166.4,481.70 L167.2,475.94 L168.0,464.05 L168.8,444.48 L169.6,417.87 L170.4,395.50 L171.2,394.33 L172.0,415.17 L172.8,441.46 L173.6,461.81 L174.4,474.04 L175.2,480.09 L176.0,482.03 L176.8,483.23 L177.6,483.19 L178.4,482.31 L179.2,480.46 L180.0,477.34 L180.8,472.72 L181.6,466.09 L182.4,459.25 L183.2,452.89 L184.0,448.32 L184.8,448.68 L185.6,452.58 L186.4,459.40 L187.2,466.38 L188.0,472.91 L188.8,478.76 L189.6,481.81 L190.4,484.64 L191.2,485.89 L192.0,486.88 L192.8,487.08 L193.6,487.51 L194.4,487.44 L195.2,486.91 L196.0,486.62 L196.8,486.42 L197.6,485.23 L198.4,483.20 L199.2,481.74 L200.0,482.09 L200.8,483.89 L201.6,484.44 L202.4,485.56 L203.2,485.87 L204.0,485.45 L204.8,485.55 L205.6,485.62 L206.4,485.73 L207.2,486.32 L208.0,486.41 L208.8,486.63 L209.6,487.09 L210.4,487.64 L211.2,487.69 L212.0,487.89 L212.8,488.52 L213.6,488.93 L214.4,489.15 L215.2,489.19 L216.0,489.15 L216.8,489.48 L217.6,489.62 L218.4,489.76 L219.2,489.69 L220.0,489.93 L220.8,489.91 L221.6,489.49 L222.4,489.84 L223.2,489.40 L224.0,489.36 L224.8,488.76 L225.6,487.83 L226.4,486.33 L227.2,485.47 L228.0,486.02 L228.8,487.22 L229.6,487.88 L230.4,488.34 L231.2,487.52 L232.0,487.21 L232.8,487.50 L233.6,488.59 L234.4,489.36 L235.2,489.48 L236.0,489.93 L236.8,490.11 L237.6,490.10 L238.4,490.22 L239.2,490.50 L240.0,490.60 L240.8,490.45 L241.6,490.51 L242.4,490.42 L243.2,490.71 L244.0,490.40 L244.8,490.65 L245.6,491.11 L246.4,490.44 L247.2,490.38 L248.0,490.01 L248.8,490.03 L249.6,490.73 L250.4,490.37 L251.2,490.23 L252.0,490.20 L252.8,490.08 L253.6,490.24 L254.4,490.04 L255.2,490.19 L256.0,490.39 L256.8,490.16 L257.6,490.08 L258.4,490.02 L259.2,490.35 L260.0,489.88 L260.8,489.84 L261.6,489.85 L262.4,489.61 L263.2,489.72 L264.0,489.30 L264.8,488.83 L265.6,488.66 L266.4,487.77 L267.2,486.25 L268.0,483.47 L268.8,479.14 L269.6,473.76 L270.4,468.98 L271.2,466.62 L272.0,469.38 L272.8,474.28 L273.6,479.44 L274.4,483.30 L275.2,486.40 L276.0,487.50 L276.8,488.30 L277.6,488.44 L278.4,488.93 L279.2,488.90 L280.0,489.01 L280.8,488.98 L281.6,488.90 L282.4,488.64 L283.2,488.78 L284.0,488.49 L284.8,488.46 L285.6,488.70 L286.4,488.36 L287.2,488.18 L288.0,488.07 L288.8,488.10 L289.6,487.79 L290.4,487.58 L291.2,487.54 L292.0,487.58 L292.8,487.76 L293.6,487.03 L294.4,487.16 L295.2,487.03 L296.0,487.45 L296.8,486.82 L297.6,487.15 L298.4,486.99 L299.2,487.03 L300.0,487.18 L300.8,487.13 L301.6,487.03 L302.4,487.49 L303.2,487.05 L304.0,486.98 L304.8,487.21 L305.6,487.58 L306.4,487.39 L307.2,487.63 L308.0,487.85 L308.8,487.96 L309.6,488.05 L310.4,488.21 L311.2,488.11 L312.0,488.42 L312.8,488.30 L313.6,488.29 L314.4,487.87 L315.2,487.26 L316.0,486.63 L316.8,485.56 L317.6,484.74 L318.4,484.57 L319.2,485.03 L320.0,486.22 L320.8,487.63 L321.6,488.59 L322.4,488.72 L323.2,489.26 L324.0,489.22 L324.8,489.48 L325.6,489.88 L326.4,489.73 L327.2,490.04 L328.0,490.24 L328.8,489.68 L329.6,490.06 L330.4,490.18 L331.2,490.25 L332.0,490.29 L332.8,490.28 L333.6,490.18 L334.4,489.80 L335.2,490.19 L336.0,490.35 L336.8,489.74 L337.6,489.89 L338.4,489.87 L339.2,489.76 L340.0,489.72 L340.8,489.54 L341.6,489.44 L342.4,488.90 L343.2,488.55 L344.0,488.41 L344.8,487.58 L345.6,486.45 L346.4,485.29 L347.2,484.41 L348.0,483.49 L348.8,482.44 L349.6,481.64 L350.4,481.31 L351.2,481.13 L352.0,481.17 L352.8,481.29 L353.6,481.80 L354.4,482.08 L355.2,483.00 L356.0,484.01 L356.8,485.29 L357.6,486.42 L358.4,487.17 L359.2,487.82 L360.0,488.31 L360.8,488.42 L361.6,488.23 L362.4,488.20 L363.2,487.84 L364.0,487.14 L364.8,487.54 L365.6,486.51 L366.4,486.97 L367.2,487.77 L368.0,488.36 L368.8,488.71 L369.6,489.21 L370.4,489.44 L371.2,489.41 L372.0,489.27 L372.8,489.44 L373.6,488.76 L374.4,488.84 L375.2,488.73 L376.0,488.40 L376.8,488.03 L377.6,487.44 L378.4,486.59 L379.2,485.49 L380.0,484.24 L380.8,482.86 L381.6,481.28 L382.4,479.36 L383.2,477.53 L384.0,475.20 L384.8,474.09 L385.6,473.39 L386.4,473.63 L387.2,474.11 L388.0,474.34 L388.8,474.12 L389.6,471.64 L390.4,466.83 L391.2,458.77 L392.0,447.77 L392.8,435.94 L393.6,428.31 L394.4,428.72 L395.2,437.31 L396.0,449.16 L396.8,460.37 L397.6,468.79 L398.4,474.11 L399.2,477.38 L400.0,478.87 L400.8,479.89 L401.6,480.04 L402.4,480.36 L403.2,480.20 L404.0,479.97 L404.8,479.33 L405.6,478.55 L406.4,477.08 L407.2,475.77 L408.0,474.21 L408.8,473.34 L409.6,474.26 L410.4,475.87 L411.2,477.38 L412.0,479.82 L412.8,481.53 L413.6,483.19 L414.4,484.24 L415.2,484.86 L416.0,485.22 L416.8,484.92 L417.6,485.02 L418.4,484.45 L419.2,483.95 L420.0,483.34 L420.8,483.15 L421.6,483.57 L422.4,483.78 L423.2,484.20 L424.0,484.90 L424.8,485.13 L425.6,485.47 L426.4,484.86 L427.2,484.51 L428.0,483.55 L428.8,481.96 L429.6,481.64 L430.4,481.09 L431.2,481.33 L432.0,482.29 L432.8,483.11 L433.6,484.16 L434.4,484.11 L435.2,483.97 L436.0,483.88 L436.8,483.61 L437.6,482.80 L438.4,482.34 L439.2,481.28 L440.0,480.54 L440.8,479.93 L441.6,479.39 L442.4,478.58 L443.2,478.30 L444.0,478.46 L444.8,478.57 L445.6,479.26 L446.4,479.90 L447.2,481.13 L448.0,481.42 L448.8,482.55 L449.6,483.10 L450.4,484.00 L451.2,484.02 L452.0,484.77 L452.8,484.66 L453.6,485.71 L454.4,485.68 L455.2,485.62 L456.0,486.17 L456.8,486.24 L457.6,485.77 L458.4,485.29 L459.2,484.29 L460.0,483.06 L460.8,481.29 L461.6,479.65 L462.4,476.59 L463.2,474.33 L464.0,472.34 L464.8,470.52 L465.6,470.27 L466.4,471.86 L467.2,474.80 L468.0,477.05 L468.8,479.73 L469.6,481.74 L470.4,483.49 L471.2,484.48 L472.0,485.23 L472.8,484.90 L473.6,484.66 L474.4,483.70 L475.2,483.62 L476.0,482.75 L476.8,481.97 L477.6,482.09 L478.4,482.68 L479.2,483.72 L480.0,484.30 L480.8,485.38 L481.6,486.71 L482.4,486.95 L483.2,487.11 L484.0,486.95 L484.8,486.99 L485.6,486.86 L486.4,486.67 L487.2,486.11 L488.0,486.29 L488.8,486.51 L489.6,486.65 L490.4,486.62 L491.2,487.05 L492.0,487.28 L492.8,487.65 L493.6,488.03 L494.4,488.42 L495.2,488.62 L496.0,488.94 L496.8,488.82 L497.6,488.64 L498.4,488.96 L499.2,488.87 L500.0,488.70 L500.8,488.94 L501.6,489.17 L502.4,489.39 L503.2,489.20 L504.0,488.88 L504.8,489.12 L505.6,488.92 L506.4,489.34 L507.2,488.74 L508.0,489.20 L508.8,489.04 L509.6,489.17 L510.4,489.04 L511.2,489.18 L512.0,489.21 L512.8,489.09 L513.6,488.88 L514.4,489.05 L515.2,488.75 L516.0,489.21 L516.8,488.99 L517.6,489.42 L518.4,488.99 L519.2,489.53 L520.0,489.28 L520.8,489.15 L521.6,489.33 L522.4,488.95 L523.2,488.85 L524.0,489.37 L524.8,488.74 L525.6,489.20 L526.4,489.38 L527.2,489.10 L528.0,489.33 L528.8,489.01 L529.6,489.01 L530.4,489.23 L531.2,489.18 L532.0,488.99 L532.8,489.26 L533.6,488.72 L534.4,489.03 L535.2,488.88 L536.0,489.06 L536.8,489.07 L537.6,489.12 L538.4,489.21 L539.2,489.36 L540.0,489.22 L540.8,488.97 L541.6,488.96 L542.4,488.73"/>
<path d="M20.0,540.84 L20.8,541.68 L21.6,542.14 L22.4,542.97 L23.2,543.04 L24.0,544.06 L24.8,544.08 L25.6,544.39 L26.4,544.10 L27.2,544.48 L28.0,544.52 L28.8,544.62 L29.6,544.15 L30.4,543.41 L31.2,542.59 L32.0,542.22 L32.8,540.33 L33.6,539.47 L34.4,537.08 L35.2,534.35 L36.0,531.63 L36.8,529.22 L37.6,525.57 L38.4,522.31 L39.2,518.41 L40.0,515.77 L40.8,512.39 L41.6,509.16 L42.4,507.10 L43.2,504.61 L44.0,501.91 L44.8,500.55 L45.6,497.22 L46.4,495.22 L47.2,493.85 L48.0,492.66 L48.8,492.25 L49.6,492.73 L50.4,494.73 L51.2,496.75 L52.0,499.88 L52.8,504.26 L53.6,509.08 L54.4,513.87 L55.2,519.25 L56.0,523.22 L56.8,527.31 L57.6,531.03 L58.4,534.16 L59.2,537.20 L60.0,538.76 L60.8,541.06 L61.6,541.73 L62.4,542.66 L63.2,543.43 L64.0,543.34 L64.8,544.07 L65.6,544.27 L66.4,544.71 L67.2,544.66 L68.0,543.98 L68.8,544.72 L69.6,544.29 L70.4,544.18 L71.2,544.05 L72.0,544.51 L72.8,543.60 L73.6,543.45 L74.4,543.47 L75.2,543.42 L76.0,542.70 L76.8,542.64 L77.6,542.55 L78.4,542.46 L79.2,542.24 L80.0,542.06 L80.8,542.32 L81.6,542.50 L82.4,542.69 L83.2,543.16 L84.0,543.70 L84.8,543.85 L85.6,544.11 L86.4,544.61 L87.2,544.77 L88.0,544.44 L88.8,544.38 L89.6,545.54 L90.4,545.08 L91.2,545.67 L92.0,545.29 L92.8,545.75 L93.6,545.45 L94.4,545.37 L95.2,545.10 L96.0,545.13 L96.8,544.81 L97.6,544.81 L98.4,544.34 L99.2,543.98 L100.0,543.55 L100.8,542.64 L101.6,542.82 L102.4,543.08 L103.2,543.83 L104.0,544.51 L104.8,544.38 L105.6,544.41 L106.4,545.19 L107.2,545.40 L108.0,545.18 L108.8,545.61 L109.6,545.51 L110.4,545.73 L111.2,545.22 L112.0,545.49 L112.8,545.34 L113.6,545.20 L114.4,545.46 L115.2,544.83 L116.0,544.32 L116.8,543.14 L117.6,539.40 L118.4,534.74 L119.2,528.93 L120.0,528.05 L120.8,533.81 L121.6,538.79 L122.4,540.59 L123.2,539.60 L124.0,537.01 L124.8,535.06 L125.6,535.32 L126.4,536.97 L127.2,539.80 L128.0,541.02 L128.8,539.65 L129.6,537.26 L130.4,536.66 L131.2,537.27 L132.0,540.29 L132.8,542.54 L133.6,543.02 L134.4,543.44 L135.2,543.39 L136.0,544.08 L136.8,543.51 L137.6,543.80 L138.4,544.12 L139.2,545.35 L140.0,545.54 L140.8,545.14 L141.6,545.27 L142.4,545.78 L143.2,545.77 L144.0,545.78 L144.8,545.53 L145.6,545.30 L146.4,545.81 L147.2,545.47 L148.0,546.31 L148.8,545.83 L149.6,545.83 L150.4,545.74 L151.2,545.51 L152.0,545.68 L152.8,545.32 L153.6,545.46 L154.4,545.45 L155.2,545.30 L156.0,544.44 L156.8,545.12 L157.6,544.69 L158.4,545.07 L159.2,544.81 L160.0,544.53 L160.8,544.55 L161.6,543.94 L162.4,543.78 L163.2,543.18 L164.0,542.80 L164.8,542.06 L165.6,540.09 L166.4,537.26 L167.2,531.27 L168.0,521.32 L168.8,504.28 L169.6,484.44 L170.4,468.25 L171.2,467.03 L172.0,482.30 L172.8,501.88 L173.6,518.97 L174.4,529.53 L175.2,535.88 L176.0,539.37 L176.8,540.22 L177.6,540.23 L178.4,539.84 L179.2,537.82 L180.0,535.61 L180.8,531.61 L181.6,526.41 L182.4,520.39 L183.2,514.67 L184.0,510.51 L184.8,510.54 L185.6,514.16 L186.4,520.44 L187.2,526.19 L188.0,532.08 L188.8,536.28 L189.6,539.46 L190.4,541.87 L191.2,542.43 L192.0,543.44 L192.8,543.96 L193.6,543.51 L194.4,543.72 L195.2,543.82 L196.0,543.35 L196.8,542.92 L197.6,541.96 L198.4,540.73 L199.2,539.62 L200.0,540.20 L200.8,541.00 L201.6,541.76 L202.4,542.35 L203.2,542.06 L204.0,542.27 L204.8,542.31 L205.6,542.70 L206.4,543.11 L207.2,542.76 L208.0,542.84 L208.8,543.08 L209.6,543.57 L210.4,543.53 L211.2,543.94 L212.0,544.55 L212.8,544.90 L213.6,544.83 L214.4,545.02 L215.2,545.09 L216.0,545.39 L216.8,544.68 L217.6,545.45 L218.4,545.53 L219.2,545.43 L220.0,545.35 L220.8,545.57 L221.6,545.39 L222.4,545.68 L223.2,545.21 L224.0,545.25 L224.8,544.82 L225.6,543.21 L226.4,542.41 L227.2,541.38 L228.0,541.91 L228.8,543.43 L229.6,544.12 L230.4,544.08 L231.2,543.91 L232.0,543.64 L232.8,543.57 L233.6,544.41 L234.4,545.10 L235.2,545.42 L236.0,545.48 L236.8,545.95 L237.6,546.16 L238.4,545.65 L239.2,546.01 L240.0,545.90 L240.8,546.24 L241.6,546.32 L242.4,546.14 L243.2,546.24 L244.0,546.19 L244.8,546.11 L245.6,546.02 L246.4,546.11 L247.2,545.75 L248.0,545.62 L248.8,545.99 L249.6,546.06 L250.4,546.24 L251.2,545.85 L252.0,545.59 L252.8,546.01 L253.6,546.29 L254.4,545.81 L255.2,545.93 L256.0,545.81 L256.8,545.54 L257.6,546.08 L258.4,545.62 L259.2,546.02 L260.0,545.46 L260.8,544.98 L261.6,545.07 L262.4,544.98 L263.2,544.97 L264.0,544.97 L264.8,544.53 L265.6,544.53 L266.4,542.62 L267.2,541.07 L268.0,538.45 L268.8,534.58 L269.6,529.76 L270.4,525.43 L271.2,523.88 L272.0,525.68 L272.8,529.98 L273.6,534.68 L274.4,538.07 L275.2,541.19 L276.0,542.62 L276.8,543.82 L277.6,544.19 L278.4,544.79 L279.2,544.68 L280.0,544.70 L280.8,544.35 L281.6,544.58 L282.4,543.91 L283.2,544.61 L284.0,544.66 L284.8,544.34 L285.6,544.46 L286.4,544.04 L287.2,544.10 L288.0,543.89 L288.8,544.05 L289.6,543.95 L290.4,544.02 L291.2,543.20 L292.0,543.20 L292.8,543.44 L293.6,543.17 L294.4,543.04 L295.2,543.32 L296.0,543.06 L296.8,542.88 L297.6,543.25 L298.4,542.82 L299.2,542.55 L300.0,542.76 L300.8,542.84 L301.6,542.70 L302.4,543.22 L303.2,543.20 L304.0,543.38 L304.8,543.57 L305.6,543.38 L306.4,543.34 L307.2,543.44 L308.0,543.40 L308.8,543.88 L309.6,543.40 L310.4,543.37 L311.2,543.93 L312.0,543.73 L312.8,543.28 L313.6,543.49 L314.4,542.85 L315.2,541.45 L316.0,540.03 L316.8,539.00 L317.6,537.77 L318.4,537.48 L319.2,538.09 L320.0,539.90 L320.8,541.64 L321.6,542.73 L322.4,543.76 L323.2,544.53 L324.0,544.67 L324.8,544.70 L325.6,545.04 L326.4,545.32 L327.2,545.19 L328.0,545.31 L328.8,545.19 L329.6,545.26 L330.4,544.84 L331.2,545.32 L332.0,545.12 L332.8,544.70 L333.6,544.83 L334.4,544.40 L335.2,544.51 L336.0,544.58 L336.8,543.93 L337.6,543.39 L338.4,543.10 L339.2,542.77 L340.0,542.00 L340.8,541.65 L341.6,540.32 L342.4,540.33 L343.2,539.03 L344.0,538.18 L344.8,537.57 L345.6,536.52 L346.4,534.89 L347.2,534.19 L348.0,534.11 L348.8,533.24 L349.6,532.83 L350.4,533.09 L351.2,533.11 L352.0,533.57 L352.8,533.88 L353.6,534.70 L354.4,535.63 L355.2,536.86 L356.0,538.09 L356.8,538.48 L357.6,539.66 L358.4,540.77 L359.2,541.86 L360.0,542.32 L360.8,543.03 L361.6,543.77 L362.4,543.85 L363.2,544.09 L364.0,543.82 L364.8,543.50 L365.6,544.18 L366.4,544.52 L367.2,544.62 L368.0,545.06 L368.8,545.62 L369.6,545.44 L370.4,544.93 L371.2,544.81 L372.0,544.96 L372.8,544.63 L373.6,543.77 L374.4,543.49 L375.2,543.00 L376.0,542.45 L376.8,541.70 L377.6,541.25 L378.4,539.55 L379.2,538.28 L380.0,537.49 L380.8,536.64 L381.6,534.74 L382.4,533.31 L383.2,532.19 L384.0,530.95 L384.8,530.33 L385.6,529.22 L386.4,529.62 L387.2,529.04 L388.0,528.79 L388.8,527.53 L389.6,526.30 L390.4,523.03 L391.2,516.61 L392.0,508.49 L392.8,498.35 L393.6,489.98 L394.4,486.64 L395.2,490.04 L396.0,495.04 L396.8,499.74 L397.6,501.00 L398.4,499.72 L399.2,496.98 L400.0,494.92 L400.8,495.99 L401.6,499.43 L402.4,504.75 L403.2,510.91 L404.0,516.11 L404.8,520.80 L405.6,523.79 L406.4,525.32 L407.2,526.57 L408.0,526.65 L408.8,526.90 L409.6,527.22 L410.4,528.55 L411.2,529.66 L412.0,530.60 L412.8,532.67 L413.6,534.26 L414.4,535.81 L415.2,537.14 L416.0,537.73 L416.8,537.66 L417.6,537.54 L418.4,537.64 L419.2,536.82 L420.0,536.29 L420.8,535.82 L421.6,536.05 L422.4,537.08 L423.2,537.77 L424.0,538.63 L424.8,538.82 L425.6,539.26 L426.4,539.37 L427.2,538.32 L428.0,537.51 L428.8,536.62 L429.6,535.93 L430.4,535.09 L431.2,535.21 L432.0,536.17 L432.8,536.63 L433.6,536.96 L434.4,536.61 L435.2,536.22 L436.0,536.36 L436.8,535.75 L437.6,535.55 L438.4,535.35 L439.2,534.70 L440.0,533.80 L440.8,533.65 L441.6,533.00 L442.4,532.93 L443.2,533.05 L444.0,532.67 L444.8,533.01 L445.6,533.32 L446.4,533.95 L447.2,534.59 L448.0,534.92 L448.8,535.86 L449.6,536.57 L450.4,536.70 L451.2,537.43 L452.0,538.01 L452.8,538.03 L453.6,538.77 L454.4,539.69 L455.2,539.80 L456.0,539.88 L456.8,539.98 L457.6,540.16 L458.4,539.23 L459.2,539.13 L460.0,537.52 L460.8,535.79 L461.6,533.31 L462.4,530.72 L463.2,527.46 L464.0,524.80 L464.8,522.88 L465.6,523.34 L466.4,525.21 L467.2,527.54 L468.0,530.49 L468.8,533.43 L469.6,536.19 L470.4,537.41 L471.2,538.40 L472.0,538.86 L472.8,538.85 L473.6,537.65 L474.4,536.49 L475.2,535.46 L476.0,533.66 L476.8,533.00 L477.6,533.40 L478.4,534.14 L479.2,535.16 L480.0,536.45 L480.8,537.81 L481.6,539.18 L482.4,540.74 L483.2,540.88 L484.0,541.97 L484.8,542.05 L485.6,541.91 L486.4,542.54 L487.2,542.38 L488.0,542.96 L488.8,543.29 L489.6,544.04 L490.4,543.70 L491.2,543.72 L492.0,544.60 L492.8,544.82 L493.6,544.83 L494.4,545.03 L495.2,545.45 L496.0,545.65 L496.8,545.46 L497.6,545.91 L498.4,545.88 L499.2,545.87 L500.0,545.64 L500.8,545.78 L501.6,546.21 L502.4,546.25 L503.2,546.18 L504.0,545.89 L504.8,545.88 L505.6,545.73 L506.4,545.74 L507.2,545.91 L508.0,546.21 L508.8,546.36 L509.6,546.18 L510.4,546.29 L511.2,545.90 L512.0,546.01 L512.8,546.21 L513.6,546.01 L514.4,546.13 L515.2,545.56 L516.0,546.19 L516.8,545.83 L517.6,545.77 L518.4,545.94 L519.2,545.10 L520.0,545.99 L520.8,546.63 L521.6,546.03 L522.4,546.33 L523.2,545.74 L524.0,545.74 L524.8,545.69 L525.6,546.47 L526.4,545.71 L527.2,546.39 L528.0,546.09 L528.8,546.43 L529.6,545.96 L530.4,545.98 L531.2,546.15 L532.0,545.57 L532.8,545.54 L533.6,546.57 L534.4,546.17 L535.2,546.30 L536.0,546.31 L536.8,546.39 L537.6,546.30 L538.4,546.34 L539.2,545.93 L540.0,545.64 L540.8,546.02 L541.6,546.60 L542.4,546.10"/>
</g>
<g stroke="#111" stroke-width="1">
<line x1="20.00" y1="31.0" x2="20.00" y2="34.0"/>
<line x1="20.00" y1="553.0" x2="20.00" y2="550.0"/>
<line x1="89.67" y1="31.0" x2="89.67" y2="34.0"/>
<line x1="89.67" y1="553.0" x2="89.67" y2="550.0"/>
<line x1="159.34" y1="31.0" x2="159.34" y2="34.0"/>
<line x1="159.34" y1="553.0" x2="159.34" y2="550.0"/>
<line x1="229.02" y1="31.0" x2="229.02" y2="34.0"/>
<line x1="229.02" y1="553.0" x2="229.02" y2="550.0"/>
<line x1="298.69" y1="31.0" x2="298.69" y2="34.0"/>
<line x1="298.69" y1="553.0" x2="298.69" y2="550.0"/>
<line x1="368.36" y1="31.0" x2="368.36" y2="34.0"/>
<line x1="368.36" y1="553.0" x2="368.36" y2="550.0"/>
<line x1="438.03" y1="31.0" x2="438.03" y2="34.0"/>
<line x1="438.03" y1="553.0" x2="438.03" y2="550.0"/>
<line x1="507.70" y1="31.0" x2="507.70" y2="34.0"/>
<line x1="507.70" y1="553.0" x2="507.70" y2="550.0"/>
</g>
<rect x="20.5" y="31.5" width="522.5" height="521.5" fill="none" stroke="#111" stroke-width="1" shape-rendering="crispEdges"/>
<g stroke="#111" stroke-width="0.22">
<text x="20.0" y="24.3" font-size="19" text-anchor="middle" textLength="28.2" lengthAdjust="spacingAndGlyphs">300</text>
<text x="20.0" y="575.0" font-size="19" text-anchor="middle" textLength="28.2" lengthAdjust="spacingAndGlyphs">300</text>
<text x="89.7" y="24.3" font-size="19" text-anchor="middle" textLength="28.2" lengthAdjust="spacingAndGlyphs">500</text>
<text x="89.7" y="575.0" font-size="19" text-anchor="middle" textLength="28.2" lengthAdjust="spacingAndGlyphs">500</text>
<text x="159.3" y="24.3" font-size="19" text-anchor="middle" textLength="28.2" lengthAdjust="spacingAndGlyphs">700</text>
<text x="159.3" y="575.0" font-size="19" text-anchor="middle" textLength="28.2" lengthAdjust="spacingAndGlyphs">700</text>
<text x="229.0" y="24.3" font-size="19" text-anchor="middle" textLength="28.2" lengthAdjust="spacingAndGlyphs">900</text>
<text x="229.0" y="575.0" font-size="19" text-anchor="middle" textLength="28.2" lengthAdjust="spacingAndGlyphs">900</text>
<text x="298.7" y="24.3" font-size="19" text-anchor="middle" textLength="37.6" lengthAdjust="spacingAndGlyphs">1100</text>
<text x="298.7" y="575.0" font-size="19" text-anchor="middle" textLength="37.6" lengthAdjust="spacingAndGlyphs">1100</text>
<text x="368.4" y="24.3" font-size="19" text-anchor="middle" textLength="37.6" lengthAdjust="spacingAndGlyphs">1300</text>
<text x="368.4" y="575.0" font-size="19" text-anchor="middle" textLength="37.6" lengthAdjust="spacingAndGlyphs">1300</text>
<text x="438.0" y="24.3" font-size="19" text-anchor="middle" textLength="37.6" lengthAdjust="spacingAndGlyphs">1500</text>
<text x="438.0" y="575.0" font-size="19" text-anchor="middle" textLength="37.6" lengthAdjust="spacingAndGlyphs">1500</text>
<text x="507.7" y="24.3" font-size="19" text-anchor="middle" textLength="37.6" lengthAdjust="spacingAndGlyphs">1700</text>
<text x="507.7" y="575.0" font-size="19" text-anchor="middle" textLength="37.6" lengthAdjust="spacingAndGlyphs">1700</text>
<text x="202.0" y="604.0" font-size="21" text-anchor="start" textLength="158.0" lengthAdjust="spacingAndGlyphs">Raman shift, cm<tspan dy="-7.5" font-size="13.5">−1</tspan></text>
<text x="24.7" y="147.0" font-size="10" text-anchor="start" textLength="14.5" lengthAdjust="spacingAndGlyphs">334</text>
<text x="39.7" y="79.8" font-size="10" text-anchor="start" textLength="14.5" lengthAdjust="spacingAndGlyphs">376</text>
<text x="130.8" y="136.8" font-size="10" text-anchor="start" textLength="14.5" lengthAdjust="spacingAndGlyphs">638</text>
<text x="167.3" y="108.9" font-size="10" text-anchor="start" textLength="14.5" lengthAdjust="spacingAndGlyphs">744</text>
<text x="178.5" y="86.0" font-size="10" text-anchor="start" textLength="14.5" lengthAdjust="spacingAndGlyphs">777</text>
<text x="195.8" y="144.0" font-size="10" text-anchor="start" textLength="14.5" lengthAdjust="spacingAndGlyphs">825</text>
<text x="262.0" y="135.8" font-size="10" text-anchor="start" textLength="19.4" lengthAdjust="spacingAndGlyphs">1020</text>
<text x="295.8" y="144.0" font-size="10" text-anchor="start" textLength="19.4" lengthAdjust="spacingAndGlyphs">1115</text>
<text x="343.1" y="135.6" font-size="10" text-anchor="start" textLength="19.4" lengthAdjust="spacingAndGlyphs">1253</text>
<text x="363.5" y="144.5" font-size="10" text-anchor="start" textLength="19.4" lengthAdjust="spacingAndGlyphs">1329</text>
<text x="365.2" y="121.6" font-size="10" text-anchor="start" textLength="19.4" lengthAdjust="spacingAndGlyphs">1353</text>
<text x="385.6" y="109.4" font-size="10" text-anchor="start" textLength="19.4" lengthAdjust="spacingAndGlyphs">1375</text>
<text x="410.4" y="43.0" font-size="10" text-anchor="start" textLength="19.4" lengthAdjust="spacingAndGlyphs">1413</text>
<text x="417.7" y="137.2" font-size="10" text-anchor="start" textLength="19.4" lengthAdjust="spacingAndGlyphs">1469</text>
<text x="438.2" y="117.8" font-size="10" text-anchor="start" textLength="19.4" lengthAdjust="spacingAndGlyphs">1527</text>
<text x="463.3" y="105.8" font-size="10" text-anchor="start" textLength="19.4" lengthAdjust="spacingAndGlyphs">1566</text>
<text x="21.2" y="421.2" font-size="10" text-anchor="start" textLength="14.5" lengthAdjust="spacingAndGlyphs">312</text>
<text x="54.2" y="393.9" font-size="10" text-anchor="start" textLength="14.5" lengthAdjust="spacingAndGlyphs">383</text>
<text x="74.6" y="426.5" font-size="10" text-anchor="start" textLength="14.5" lengthAdjust="spacingAndGlyphs">476</text>
<text x="94.4" y="426.5" font-size="10" text-anchor="start" textLength="14.5" lengthAdjust="spacingAndGlyphs">534</text>
<text x="108.8" y="416.5" font-size="10" text-anchor="start" textLength="14.5" lengthAdjust="spacingAndGlyphs">587</text>
<text x="127.7" y="416.5" font-size="10" text-anchor="start" textLength="14.5" lengthAdjust="spacingAndGlyphs">619</text>
<text x="153.6" y="390.0" font-size="10" text-anchor="start" textLength="14.5" lengthAdjust="spacingAndGlyphs">733</text>
<text x="189.1" y="398.0" font-size="10" text-anchor="start" textLength="14.5" lengthAdjust="spacingAndGlyphs">772</text>
<text x="192.6" y="422.0" font-size="10" text-anchor="start" textLength="14.5" lengthAdjust="spacingAndGlyphs">817</text>
<text x="219.6" y="422.3" font-size="10" text-anchor="start" textLength="14.5" lengthAdjust="spacingAndGlyphs">895</text>
<text x="262.0" y="399.0" font-size="10" text-anchor="start" textLength="19.4" lengthAdjust="spacingAndGlyphs">1021</text>
<text x="289.8" y="422.3" font-size="10" text-anchor="start" textLength="19.4" lengthAdjust="spacingAndGlyphs">1101</text>
<text x="309.0" y="414.0" font-size="10" text-anchor="start" textLength="19.4" lengthAdjust="spacingAndGlyphs">1156</text>
<text x="330.0" y="418.4" font-size="10" text-anchor="start" textLength="19.4" lengthAdjust="spacingAndGlyphs">1244</text>
<text x="345.0" y="405.6" font-size="10" text-anchor="start" textLength="19.4" lengthAdjust="spacingAndGlyphs">1258</text>
<text x="358.4" y="426.6" font-size="10" text-anchor="start" textLength="19.4" lengthAdjust="spacingAndGlyphs">1291</text>
<text x="367.6" y="407.6" font-size="10" text-anchor="start" textLength="19.4" lengthAdjust="spacingAndGlyphs">1349</text>
<text x="399.0" y="381.5" font-size="10" text-anchor="start" textLength="19.4" lengthAdjust="spacingAndGlyphs">1374</text>
<text x="400.0" y="399.0" font-size="10" text-anchor="start" textLength="19.4" lengthAdjust="spacingAndGlyphs">1417</text>
<text x="421.0" y="399.0" font-size="10" text-anchor="start" textLength="19.4" lengthAdjust="spacingAndGlyphs">1478</text>
<text x="456.4" y="399.0" font-size="10" text-anchor="start" textLength="19.4" lengthAdjust="spacingAndGlyphs">1578</text>
<text x="413.0" y="415.0" font-size="10" text-anchor="start" textLength="19.4" lengthAdjust="spacingAndGlyphs">1451</text>
<text x="437.5" y="415.0" font-size="10" text-anchor="start" textLength="19.4" lengthAdjust="spacingAndGlyphs">1516</text>
<text x="470.4" y="418.7" font-size="10" text-anchor="start" textLength="19.4" lengthAdjust="spacingAndGlyphs">1613</text>
<text x="405.2" y="502.0" font-size="10" text-anchor="start" textLength="19.4" lengthAdjust="spacingAndGlyphs">1389</text>
<text x="120.5" y="529.0" font-size="8.6" text-anchor="start" textLength="12.2" lengthAdjust="spacingAndGlyphs">603</text>
<text x="64.9" y="122.9" font-size="13.3" text-anchor="start" textLength="95.2" lengthAdjust="spacingAndGlyphs">pH = 9.1 (borate)</text>
<text x="62.3" y="193.5" font-size="11.3" text-anchor="start" textLength="100.0" lengthAdjust="spacingAndGlyphs">pH = 7.1 (phosphate)</text>
<text x="62.3" y="248.2" font-size="11.3" text-anchor="start" textLength="100.0" lengthAdjust="spacingAndGlyphs">pH = 6.0 (phosphate)</text>
<text x="62.3" y="310.6" font-size="13.3" text-anchor="start" textLength="100.4" lengthAdjust="spacingAndGlyphs">pH = 5.0 (acetate)</text>
<text x="64.9" y="364.2" font-size="13.3" text-anchor="start" textLength="95.2" lengthAdjust="spacingAndGlyphs">pH = 4.0 (citrate)</text>
<text x="64.9" y="404.2" font-size="13.3" text-anchor="start" textLength="95.2" lengthAdjust="spacingAndGlyphs">pH = 3.0 (citrate)</text>
<text x="62.0" y="470.5" font-size="13.3" text-anchor="start" textLength="101.4" lengthAdjust="spacingAndGlyphs">pH = 2.0 (glycine)</text>
<text x="64.2" y="511.2" font-size="13.3" text-anchor="start" textLength="97.0" lengthAdjust="spacingAndGlyphs">pH ~ 0.3 (H<tspan dy="2.5" font-size="9">2</tspan><tspan dy="-2.5">SO</tspan><tspan dy="2.5" font-size="9">4</tspan><tspan dy="-2.5">)</tspan></text>
</g>
</svg>
</body></html>
